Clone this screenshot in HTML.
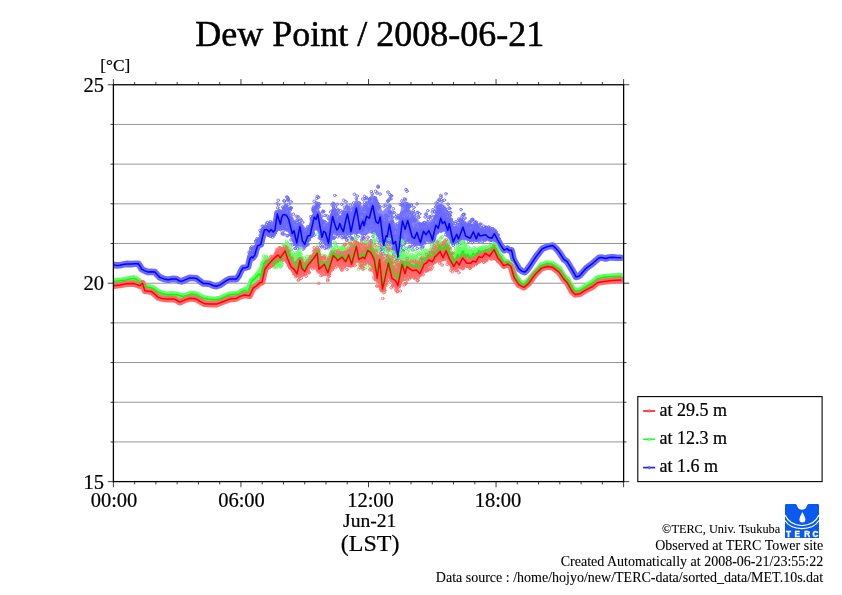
<!DOCTYPE html>
<html lang="en"><head><meta charset="utf-8"><title>Dew Point / 2008-06-21</title>
<style>html,body{margin:0;padding:0;background:#fff}body{width:842px;height:595px;overflow:hidden}svg{display:block}text{font-family:"Liberation Serif",serif;fill:#000;stroke:#000;stroke-width:.22px}</style></head><body>
<svg width="842" height="595" viewBox="0 0 842 595">
<rect width="842" height="595" fill="#fff"/>
<path d="M113.4 441.93H623.6M113.4 402.24H623.6M113.4 362.56H623.6M113.4 322.87H623.6M113.4 283.19H623.6M113.4 243.50H623.6M113.4 203.81H623.6M113.4 164.13H623.6M113.4 124.44H623.6" stroke="#000" stroke-width="0.42" fill="none"/>
<clipPath id="c"><rect x="113.4" y="84.8" width="510.2" height="396.9"/></clipPath>
<g clip-path="url(#c)" fill="none" stroke-linejoin="round" stroke-linecap="round">
<path d="M113.4 264.6 116 265.4 120 265.3 123 264.6 126.6 263.9 131 264.1 135 263.8 138.3 263.8 140 266 141.6 269.1 145 270.9 148.2 272.1 151 271.7 154.9 272.1 157.5 275 159.9 277.4 164 278.9 168.2 279.7 172 278.9 176.5 279.1 179 280.7 181.5 281.4 185 279.9 189.8 277.9 193 278 196.5 278.4 200 281.1 203.1 283.4 206 283.5 209.8 284.1 213 285.5 216.4 286.2 220 284.9 223.1 282.9 226 280.8 229.7 279.1 233 278.9 236.4 279.1 239 275.5 241 271 243 267.9 245.5 267.7 248 266.9 250 258.5 251.5 257 252.8 257.8 254.8 255.1 256.3 249.5 257.8 245.6 259.3 245.2 260.8 244.4 262.5 237 264.3 230.1 266.7 229.5 269.1 231.9 271.1 229.5 273.3 231.9 275 230.1 276.2 221 277.4 214.1 278.9 219.5 280.4 224.2 281.6 218 282.8 214.7 285.7 214.7 287.2 216.5 288.7 219.4 290.5 226.5 292.3 233.7 294 230.7 295.4 237 296.8 243.2 298.4 234 300 226.6 301.2 234 302.4 240.8 304.7 244.4 306.2 240 307.7 236.1 310.1 235.5 312.2 226 314.2 217.1 316 219.4 317.8 214.1 319.9 226 322 237.3 323.7 231.3 325.5 232.5 327 238 328.5 243.2 330.5 229 332.6 216.5 334.7 224 336.8 230.1 338.3 228.5 339.8 223.4 341.5 228 343.3 231.8 345.4 222 347.5 213.9 349.3 223 351 231.8 353.7 219 356.4 208 358.2 219 359.9 229.4 361.4 224.5 362.9 221.1 364.1 225.8 366.5 216.3 369.4 218.1 371.1 211 372.8 205.6 374.4 214 376 221.7 378.3 223.4 380.1 216.9 381.9 231 383.7 245.2 386.1 235.7 387.3 236.5 389.4 224 391.3 234 393.2 244 395.6 241.6 397.9 257.1 399.7 243 401.2 230 402.5 221.1 405.1 229.4 407.7 220.5 410 229 412.2 236.9 414.6 238.3 416.9 232.4 418.7 238 420.5 242.8 422 236.5 423.5 231.2 425.9 234.7 428.8 230.6 431.2 236 432.4 240.1 434.2 232 435.9 225.3 438.3 228.3 440.7 218.2 442.5 223.5 444.8 221.7 447.8 230.6 449.2 223.5 451.2 233 453.2 241.9 456.7 234.2 458.5 238.9 460.8 233 463 227.1 465.6 236 470.4 238.3 473.3 231.8 476.3 238.9 478.5 233 479.9 236 485.8 234.8 488.2 237.2 491.8 238.3 494.4 233.6 497.7 240.1 501.3 246.1 504.2 250.2 507.2 248.6 509 250.4 511.5 250.2 513.4 258.5 515 262 519 268.9 522 271.2 524.7 272.1 527 270 529.5 266.5 535.9 256.9 542.3 248.8 547.9 246.4 552.7 245.6 556 248.4 559.1 252.1 563.9 259.3 567.1 261.7 572 269.7 576 276.9 578 276.6 580 275.3 586.4 268.1 592.8 263.3 599.2 257.7 602 257.6 605.6 258.5 609 257.5 612 257.2 616 257.6 620.9 257.7" stroke="#6b6bff" stroke-width="6.6"/>
<path d="M249 255.8 249.5 254.8 250 253.9 250.5 252.9 251 252 251.5 251 252 250.1 252.5 249.4 253 248.7 253.5 248 254 247.2 254.5 246.5 255 245.8 255.5 245.1 256 244.4 256.5 243.7 257 242.9 257.5 242.1 258 241.2 258.5 239.8 259 238.5 259.5 237.1 260 235.8 260.5 234.4 261 233.1 261.5 231.8 262 230.5 262.5 229.3 263 228 263.5 226.8 264 226 264.5 225.8 265 225.6 265.5 225.4 266 225.3 266.5 225.1 267 225 267.5 224.9 268 224.9 268.5 224.9 269 224.9 269.5 224.9 270 224.9 270.5 224.9 271 224.9 271.5 224.8 272 224.7 272.5 224.5 273 224.3 273.5 223.6 274 222.3 274.5 220.9 275 219.6 275.5 218.3 276 216.4 276.5 214.3 277 212.1 277.5 209.8 278 207.6 278.5 208.1 279 208.6 279.5 209.1 280 209.7 280.5 210.3 281 211 281.5 209.8 282 208.8 282.5 207.7 283 206.6 283.5 205.5 284 204.4 284.5 203.2 285 202.1 285.5 202.3 286 202.9 286.5 203.5 287 204.2 287.5 204.9 288 205.7 288.5 206.4 289 207.4 289.5 208.5 290 209.5 290.5 210.7 291 211.9 291.5 213.1 292 214.3 292.5 215.6 293 216.9 293.5 218.1 294 219.3 294.5 220.5 295 221.5 295.5 222.5 296 223 296.5 222.9 297 222.6 297.5 222.5 298 222.4 298.5 222.4 299 222.4 299.5 222.3 300 222.2 300.5 222.1 301 223 301.5 224.2 302 225.2 302.5 226.4 303 227.6 303.5 228.8 304 230 304.5 231.3 305 232.5 305.5 233 306 232.5 306.5 231.9 307 231.2 307.5 230.4 308 229.6 308.5 228.8 309 227.9 309.5 227 310 226.1 310.5 223.6 311 221.2 311.5 218.8 312 216.5 312.5 214.1 313 211.7 313.5 209.3 314 208.1 314.5 207.1 315 206.2 315.5 205.3 316 204.6 316.5 203.8 317 203.2 317.5 202.6 318 203.3 318.5 205.5 319 207.9 319.5 210.1 320 212.4 320.5 214.6 321 216.2 321.5 216.9 322 217.7 322.5 218.5 323 219.3 323.5 220 324 220.8 324.5 221.5 325 222.1 325.5 222.7 326 222.8 326.5 222.7 327 222.7 327.5 222.6 328 222.5 328.5 222.5 329 222.4 329.5 220 330 217.6 330.5 215.3 331 212.9 331.5 210.6 332 208.2 332.5 205.8 333 205.6 333.5 206 334 206.4 334.5 206.9 335 207.4 335.5 208.1 336 208.9 336.5 209.8 337 210.7 337.5 211.7 338 212.6 338.5 213.6 339 214.5 339.5 215.4 340 216.2 340.5 215.3 341 214.3 341.5 213.3 342 212.3 342.5 211.2 343 210.2 343.5 209.1 344 208.1 344.5 207.2 345 206.3 345.5 205.4 346 204.5 346.5 203.6 347 203.2 347.5 204.1 348 205.2 348.5 206 349 207.1 349.5 207.9 350 209 350.5 209.8 351 210.9 351.5 211.8 352 210.8 352.5 209.1 353 207.7 353.5 206.1 354 204.6 354.5 203 355 201.5 355.5 200 356 198.5 356.5 197.5 357 198.7 357.5 199.8 358 201 358.5 202.2 359 203.5 359.5 204.8 360 206.2 360.5 207.5 361 208.9 361.5 208.4 362 208 362.5 207.4 363 206.8 363.5 206.2 364 205.6 364.5 204.8 365 204.2 365.5 203.5 366 202.8 366.5 202 367 201.3 367.5 200.5 368 199.7 368.5 198.8 369 198 369.5 197.2 370 196.5 370.5 195.8 371 195.2 371.5 194.7 372 194.5 372.5 194.8 373 195.2 373.5 195.5 374 195.8 374.5 196.2 375 196.5 375.5 196.8 376 197.2 376.5 197.7 377 198.2 377.5 198.8 378 199.7 378.5 201.1 379 202.4 379.5 203.8 380 205.2 380.5 206.5 381 207.6 381.5 208.9 382 210 382.5 211.2 383 210.7 383.5 210.3 384 209.8 384.5 209.3 385 208.8 385.5 208.2 386 207.6 386.5 207.3 387 207.1 387.5 206.8 388 206.5 388.5 206.2 389 206 389.5 205.7 390 206.9 390.5 208.5 391 210.1 391.5 211.6 392 213.3 392.5 214.9 393 216.7 393.5 218.6 394 220.5 394.5 222.1 395 222.6 395.5 223 396 223.4 396.5 223.6 397 223.7 397.5 223.7 398 223.7 398.5 221 399 218.5 399.5 215.8 400 213.4 400.5 210.8 401 208.3 401.5 205.6 402 202.9 402.5 202.5 403 202.2 403.5 201.8 404 201.6 404.5 201.4 405 201.3 405.5 201.3 406 201.4 406.5 201.5 407 201.8 407.5 202.3 408 203.6 408.5 204.9 409 206.1 409.5 207.4 410 208.6 410.5 209.9 411 211.1 411.5 212.4 412 213.7 412.5 214.5 413 214.9 413.5 215.3 414 215.7 414.5 216.2 415 216.6 415.5 217 416 217.4 416.5 217.8 417 218.1 417.5 218.9 418 219.5 418.5 220.3 419 220.9 419.5 221.6 420 222.2 420.5 223 421 223.7 421.5 224.5 422 224.6 422.5 224.2 423 223.8 423.5 223.4 424 222.9 424.5 222.5 425 222 425.5 221.5 426 221.1 426.5 220.7 427 220.3 427.5 220 428 219.8 428.5 220.3 429 221.1 429.5 221.9 430 222.7 430.5 222 431 221.2 431.5 220.5 432 219.7 432.5 219 433 218.2 433.5 217.5 434 216.8 434.5 216.1 435 215.2 435.5 214.2 436 213.2 436.5 212.1 437 211 437.5 209.9 438 208.9 438.5 207.9 439 207 439.5 206.1 440 205.1 440.5 204.3 441 204 441.5 204.2 442 204.3 442.5 204.5 443 204.7 443.5 205 444 205.2 444.5 205.5 445 205.7 445.5 206.2 446 207.1 446.5 208.1 447 209.1 447.5 210.1 448 211.2 448.5 212.2 449 213.4 449.5 214.5 450 216.1 450.5 217.7 451 219.4 451.5 221 452 222.5 452.5 224.1 453 225.7 453.5 226.2 454 226.1 454.5 225.9 455 225.7 455.5 225.4 456 225.1 456.5 224.8 457 224.3 457.5 223.9 458 223.4 458.5 222.9 459 222 459.5 221.3 460 220.5 460.5 219.9 461 219.2 461.5 218.6 462 217.9 462.5 217.3 463 217.9 463.5 219.5 464 221 464.5 222.6 465 224.2 465.5 225.8 466 226 466.5 225.9 467 225.7 467.5 225.7 468 225.5 468.5 225.4 469 225.1 469.5 224.9 470 224.7 470.5 224.5 471 224.2 471.5 224 472 223.8 472.5 223.6 473 223.7 473.5 224.1 474 224.4 474.5 224.8 475 225.2 475.5 225.6 476 226 476.5 226.4 477 226.9 477.5 227.3 478 227.6 478.5 227.8 479 228 479.5 228.2 480 228.4 480.5 228.5 481 228.7 481.5 228.8 482 229 482.5 229.2 483 229.5 483.5 229.7 484 229.8 484.5 229.9 485 229.9 485.5 230 486 230.1 486.5 230.2 487 230.3 487.5 230.5 488 230.6 488.5 230.6 489 230.7 489.5 230.8 490 230.8 490.5 230.8 491 230.9 491.5 230.9 492 231 492.5 231.1 493 231.2 493.5 231.2 494 231.3 494.5 231.9 495 232.6 495.5 233.3 496 234 496.5 234.7 497 235.5 497.5 236.2 498 237.1 498.5 238 499 239 499.5 240 500 240.9 500 246.7 499.5 245.8 499 244.9 498.5 244 498 243.1 497.5 242.4 497 241.9 496.5 241.4 496 241 495.5 240.6 495 240.3 494.5 240 494 239.8 493.5 239.6 493 239.5 492.5 239.3 492 239.4 491.5 239.4 491 239.5 490.5 239.5 490 239.6 489.5 239.7 489 239.7 488.5 239.8 488 239.8 487.5 239.8 487 239.7 486.5 239.7 486 239.7 485.5 239.7 485 239.7 484.5 239.7 484 239.7 483.5 239.7 483 239.7 482.5 239.7 482 239.8 481.5 239.8 481 239.9 480.5 240 480 240.2 479.5 240.2 479 240.3 478.5 240.3 478 240.4 477.5 240.3 477 240.4 476.5 240.4 476 240.6 475.5 240.6 475 240.8 474.5 240.9 474 241.1 473.5 241.2 473 241.4 472.5 241.4 472 241.4 471.5 241.3 471 241.2 470.5 241.2 470 241.2 469.5 241.2 469 241.1 468.5 241.1 468 241 467.5 240.9 467 240.7 466.5 240.6 466 240.4 465.5 240.3 465 240.1 464.5 240 464 239.9 463.5 239.8 463 239.8 462.5 239.9 462 240.1 461.5 240.3 461 240.4 460.5 240.7 460 240.9 459.5 241.3 459 241.6 458.5 242 458 242.4 457.5 242.7 457 243 456.5 243.3 456 243.5 455.5 243.6 455 243.7 454.5 243.7 454 243.6 453.5 243.5 453 243.2 452.5 242.3 452 241.6 451.5 240.8 451 239.9 450.5 239 450 238.1 449.5 237.1 449 236.4 448.5 235.6 448 234.9 447.5 234.3 447 233.7 446.5 233.1 446 232.5 445.5 231.9 445 231.8 444.5 231.8 444 231.8 443.5 231.8 443 231.8 442.5 231.9 442 232 441.5 232.1 441 232.2 440.5 232.3 440 232.5 439.5 232.7 439 232.9 438.5 233.2 438 233.5 437.5 233.8 437 234.2 436.5 234.7 436 235.1 435.5 235.6 435 235.8 434.5 236.4 434 237 433.5 237.6 433 238.1 432.5 238.7 432 239.2 431.5 239.9 431 240.5 430.5 241.1 430 241.7 429.5 242 429 242.2 428.5 242.3 428 242.4 427.5 242.3 427 242.4 426.5 242.5 426 242.6 425.5 242.8 425 243.1 424.5 243.4 424 243.7 423.5 243.9 423 244.1 422.5 244.3 422 244.4 421.5 244.5 421 244.5 420.5 244.6 420 244.7 419.5 244.9 419 245 418.5 245.3 418 245.3 417.5 245.5 417 245.5 416.5 245.5 416 245.4 415.5 245.3 415 245.1 414.5 244.9 414 244.8 413.5 244.6 413 244.4 412.5 244.2 412 244 411.5 243.8 411 243.6 410.5 243.5 410 243.3 409.5 243.1 409 243 408.5 242.8 408 242.6 407.5 242.3 407 242.3 406.5 242.3 406 242.4 405.5 242.5 405 242.9 404.5 243.2 404 243.8 403.5 244.3 403 245.1 402.5 245.8 402 246.6 401.5 248 401 249.5 400.5 250.7 400 252.1 399.5 253.3 399 254.8 398.5 256 398 257.5 397.5 257.6 397 257.8 396.5 257.7 396 257.6 395.5 257.2 395 256.9 394.5 256.4 394 255.3 393.5 253.8 393 252.5 392.5 251.2 392 250.2 391.5 249.1 391 248.1 390.5 247.1 390 246.2 389.5 245.5 389 246 388.5 246.4 388 247 387.5 247.5 387 248 386.5 248.5 386 249 385.5 249.2 385 249.5 384.5 249.7 384 249.7 383.5 249.9 383 250 382.5 250.1 382 248.7 381.5 247.4 381 246 380.5 244.7 380 243.2 379.5 241.7 379 240 378.5 238.5 378 236.9 377.5 236 377 235.5 376.5 235.2 376 234.9 375.5 234.7 375 234.5 374.5 234.4 374 234.3 373.5 234.1 373 234 372.5 233.8 372 233.7 371.5 233.5 371 233.4 370.5 233.3 370 233.3 369.5 233.4 369 233.5 368.5 233.8 368 234 367.5 234.2 367 234.4 366.5 234.5 366 234.6 365.5 234.7 365 234.8 364.5 234.9 364 235.1 363.5 235.1 363 235.2 362.5 235.1 362 235 361.5 234.9 361 234.7 360.5 234.4 360 234.3 359.5 234 359 233.9 358.5 233.7 358 233.7 357.5 233.7 357 233.7 356.5 233.7 356 233.8 355.5 233.8 355 233.9 354.5 233.8 354 233.9 353.5 233.9 353 234.1 352.5 234.1 352 234.2 351.5 234.3 351 234.4 350.5 234.5 350 234.6 349.5 234.7 349 234.8 348.5 234.9 348 235 347.5 235.1 347 235.2 346.5 235 346 234.9 345.5 234.8 345 234.8 344.5 234.7 344 234.7 343.5 234.7 343 234.9 342.5 235 342 235.1 341.5 235.2 341 235.3 340.5 235.3 340 235.3 339.5 235.2 339 235.1 338.5 234.9 338 234.7 337.5 234.5 337 234.3 336.5 234.1 336 234 335.5 234 335 234 334.5 234.2 334 234.5 333.5 234.8 333 235.2 332.5 235.8 332 237.2 331.5 238.7 331 240.1 330.5 241.5 330 242.9 329.5 244.4 329 245.8 328.5 245.8 328 245.9 327.5 245.9 327 245.9 326.5 245.9 326 245.9 325.5 245.7 325 245.3 324.5 244.7 324 244.1 323.5 243.4 323 242.7 322.5 241.9 322 241.2 321.5 240.4 321 239.8 320.5 238.7 320 237.2 319.5 235.7 319 234.2 318.5 232.6 318 231.1 317.5 230.4 317 230.2 316.5 230.2 316 230.2 315.5 230.4 315 230.6 314.5 230.8 314 231.2 313.5 231.7 313 232.6 312.5 233.4 312 234.2 311.5 234.9 311 235.8 310.5 236.6 310 237.5 309.5 238.6 309 239.7 308.5 240.7 308 241.7 307.5 242.6 307 243.5 306.5 244.4 306 245.1 305.5 245.8 305 246.1 304.5 246.1 304 246.1 303.5 246.2 303 246.2 302.5 246.4 302 246.4 301.5 246.7 301 246.8 300.5 246.9 300 246.8 299.5 246.7 299 246.5 298.5 246.4 298 246.1 297.5 246.1 297 245.9 296.5 246 296 245.9 295.5 245.8 295 245.3 294.5 244.8 294 244.3 293.5 243.6 293 242.9 292.5 242.1 292 241 291.5 239.8 291 238.5 290.5 237.3 290 236.1 289.5 235 289 233.9 288.5 233 288 232.5 287.5 232 287 231.5 286.5 231.1 286 230.7 285.5 230.4 285 230.3 284.5 230.2 284 230.2 283.5 230.1 283 230 282.5 230 282 229.9 281.5 229.8 281 229.8 280.5 229.8 280 230 279.5 230.2 279 230.5 278.5 230.8 278 231.1 277.5 231.6 277 232.1 276.5 232.6 276 233 275.5 233.3 275 233.5 274.5 233.6 274 233.9 273.5 234.1 273 234.4 272.5 234.6 272 234.8 271.5 234.9 271 234.9 270.5 234.9 270 234.8 269.5 234.8 269 234.7 268.5 234.7 268 234.6 267.5 234.7 267 234.7 266.5 234.8 266 235 265.5 235.3 265 236 264.5 236.7 264 237.5 263.5 238.3 263 239.1 262.5 239.9 262 240.9 261.5 241.8 261 242.9 260.5 243.9 260 245.2 259.5 246.4 259 247.7 258.5 248.9 258 250.1 257.5 251.1 257 252.1 256.5 252.9 256 253.6 255.5 254.3 255 255 254.5 255.7 254 256.5 253.5 257.4 253 258.1 252.5 258.8 252 259.5 251.5 260.2 251 260.8 250.5 261.5 250 262.2 249.5 262.9 249 263.6Z" fill="#6b6bff" fill-opacity="0.8" stroke="none"/>
<marker id="mb" markerUnits="userSpaceOnUse" markerWidth="4" markerHeight="4" refX="2" refY="2" viewBox="0 0 4 4"><circle cx="2" cy="2" r="1.3" fill="none" stroke="#6b6bff" stroke-width="0.9"/></marker>
<path d="M248.6 257.1 248.9 255.6 248.9 259.7 248.6 260.9 249.2 259.2 249.9 258.1 249 252.3 249.1 259.6 250.3 256.9 249.9 253.3 249.6 256.1 249.9 257.5 250.6 251.2 250.7 256 250.6 250 250.3 252.9 250.6 259 251 258.1 251.2 255.1 250.8 248.1 251.6 252.3 251.9 246.9 251.7 254.6 252 255.1 251.8 248.7 252 256.2 251.6 255.8 251.7 256.5 252.9 253.1 252.9 249 252.9 253.8 252.9 251.3 252.7 255.8 253 255 252.8 251.2 253.1 250.5 253.7 255.1 253.1 248.2 253.8 248.7 253.4 253.1 254.1 248.3 253.7 250.2 253.6 252.3 253.9 252.3 254.9 250.9 254.3 250.5 254.1 249.6 254.5 246.6 254.6 252.2 254.7 251.4 255.5 241.5 254.5 248 256 245.9 255.4 251.9 255.8 247.4 255.2 250.8 256.5 245.9 256.2 247.3 256 240.9 255.8 249.7 256.7 250.1 257 251 256.2 250.8 256.2 247.2 257 240.5 257.3 243 257.3 242.7 257 238.8 257.8 247.3 257.4 249.6 257.2 240 257.2 245.6 258.3 247.7 258.2 248.2 257.5 244.7 258.1 247.7 258.9 240.7 258.2 246.9 258.6 245.2 258.4 242.2 259 240.5 259.4 242.2 259 239.1 258.5 241.7 259.8 243.6 259.5 243.3 259.5 238.9 259.8 242 259.8 238.4 260 240.9 259.9 241.7 260.2 235.4 260.5 241.1 260.9 232.5 260.3 242.2 260.1 230.4 260.9 236.1 261.2 240.1 261.4 237.8 260.6 238.3 262 241.3 261.5 232.9 261.8 239.6 261.3 232.1 261.8 234.8 261.9 229.7 261.8 237.2 262.5 235.8 263 237.1 262.8 237.1 262.1 235.3 262.3 226.2 263.4 229.2 262.6 235.5 262.9 233.4 263.3 226.7 263.9 231.5 263.3 230.1 263.9 229.1 263.2 229.1 263.7 227.9 263.8 232.9 263.8 228.4 263.5 231.7 264 228 264.5 229.6 264.1 234.4 264.8 226.3 265 230.1 265.3 227.2 265.1 232.8 264.6 232.1 265.7 230.9 265.8 231.3 265.7 233.5 265.5 232.4 265.9 227.1 266 228.2 265.9 227 265.9 230.9 266.5 227.7 266.3 231.4 266 230.1 266.2 230.5 267.2 222.4 267.4 232.1 266.6 224 267.3 231.6 267.6 231.5 267.5 231.4 267.8 228.1 267.9 233 268.2 235.1 267.9 227.9 268.3 230 268.2 234.3 268 225.5 268.5 230.5 268.1 235.2 268.3 230.4 268.7 232.1 268.9 235.1 269.2 229.6 268.6 234.7 269.3 225.8 269 232.3 269.3 224.5 269.3 232.7 270 223.6 269.7 222.8 270.4 236.3 270.5 221.6 270.3 228.3 270.6 227.4 270.5 229.5 270.5 235.6 271.2 236.2 270.5 226 271 227.2 270.8 229.8 271.8 227.8 271.1 230.3 271.3 232.4 271.4 226.4 271.5 227.6 272.4 228 271.8 226.7 272.5 231.5 272.8 233.7 272.5 235.4 272.5 237.1 272.6 231.7 272.6 225.9 273.2 231 272.8 232.3 272.9 230.6 273.2 223.3 273.2 224.1 274 231.4 273.1 229.9 273.6 224.7 274.4 226.3 273.9 235.5 273.8 233.2 274.3 225.1 274.6 231.9 274.2 232 274.4 225.7 275.3 233.1 275.2 227.3 275 225.6 275.4 233 275.9 224.8 275.2 224.8 275.7 228.6 275.8 226.8 276.1 214.4 276.4 223.5 275.8 230.3 276.2 224.5 276.1 211.8 276.2 231 276 228 276.6 218.7 276.7 229.4 277.2 224.5 277.2 211.8 276.8 221.9 277 228 277.4 219 277.7 227.5 277.2 203.5 277.7 228 278.3 200.3 277.7 207.8 277.9 217.5 278.4 225.8 279 218.9 278.4 217.1 278.9 221.9 278.8 220.4 278.5 204.7 278.9 226.5 278.5 217.1 279.4 214.4 279.8 221.7 279.4 228.6 279.9 210.7 279.9 217.1 280.3 229.5 279.5 220.5 279.8 211.8 280.3 226.1 280.6 224 280.3 216.6 280.8 212.2 281 225.8 281.5 218.8 281 217.6 280.7 229.7 281.8 218.9 281.4 222.1 281.1 226.4 281.1 217.2 282.1 211.7 282.5 215.4 282 214.4 281.9 220 282.7 207.1 282.8 225.7 282.3 233.9 282.4 233.1 282.7 220.2 283.4 210.6 283.5 222.9 282.7 228 283.8 228.3 283.9 225.5 283.2 215.9 283.6 223.2 283.9 234.2 284.3 200.9 284.1 230.2 283.9 207.8 284.6 214.4 284.2 226.2 284.2 208.5 284.2 200.9 284.6 221.2 285.1 215.5 285.2 223.2 284.8 212.7 285.6 206.3 285.4 213.7 285.2 229 285.2 217.2 286.3 206.4 286.4 209.6 286.1 216.1 286.4 219.1 286.5 209.1 286.3 209.4 286.5 223.2 287 220.5 287.5 197.4 286.6 196.9 287.1 235.7 286.7 230 287.8 200.4 287.4 222.9 287.4 211.3 287.9 219.1 288.1 199.5 287.6 225.6 287.8 235.6 288.1 214.8 288.4 213.7 288.6 209.4 288.8 219.5 288.2 199 288.9 217 288.9 218.2 288.6 204.2 289.3 226.4 289.4 208.7 289.1 227.8 289.8 223.9 290 208.2 289.7 225.8 289.9 228 289.7 226 289.6 227.5 290.9 201.9 290.3 224.2 290.2 210.1 290.9 207.4 291.3 219 290.9 208.5 291.1 229.6 291.5 230.5 291.4 231.4 291.6 231 291.2 226.6 291 239.9 292.5 229.5 292.2 245.1 291.6 225.7 291.9 229.2 292.2 225 292 234.2 292.4 226.8 292.6 225.7 293 235.9 293.4 214.2 293.1 228.3 293.3 235.6 293.6 232.7 293.4 234.4 293.7 241.1 293.5 229.7 293.7 231.4 294.1 233.2 293.6 235.1 294.1 222 294.2 241.7 294.9 232.9 294.7 237.1 294.5 223 295 248.5 294.5 227.8 295.2 229.3 294.8 243.5 295.4 248.4 295.6 242.7 295.2 235.6 295.2 242.7 296.4 234.9 295.8 244.8 296.4 216.3 296.5 239.9 296.8 220.4 296.7 241.7 296.3 243.5 296.9 231.4 296.5 231.3 296.6 225.7 296.5 230.1 297.2 245.6 297.6 222.4 297.9 226.5 297.9 216.7 297.2 239.4 297.5 233 298.3 240.5 297.8 248.8 297.7 219.8 298.4 224.3 298.7 235.2 298.3 226.2 298.6 236 299.3 225 299.2 229.3 298.6 231 298.7 236.2 300 237.1 299.8 222 299.5 235.8 299.9 231.8 299.7 228.2 300.1 241.4 300.3 236.8 299.9 239.9 300.4 219 300 247.1 300.5 235 300.5 230.1 301.3 231.2 300.8 242.3 301.3 228 300.9 237.6 301.6 242.7 301.2 231.7 301.8 231.6 301.2 220.2 301.7 231.3 301.7 225.9 302.5 237.7 301.9 232.4 302.4 241.2 302.6 222.3 302 234.8 302.8 228.2 303 249.1 303.1 237.3 302.9 236.3 302.7 237.4 303.9 246 303.7 242.5 303.6 244.3 303.4 235.8 303.8 240.4 304 228.3 304.4 247.6 304.2 232.3 305 244.9 304.5 233.8 304.5 235.5 304.7 231.4 305.1 242.7 305.4 245.8 305.2 238.1 305.5 238.7 305.1 236.4 305.4 238.5 305.7 238.7 305.7 238.8 306 243.2 305.7 237.3 306.3 233.6 306.1 243.4 307 233.7 306.8 231.5 306.3 230.1 306.4 230.6 306.8 244.9 306.7 238.3 307.2 231.7 307 238.3 307.6 232.2 307.9 244.7 307.8 226.5 307.8 238.2 307.5 239.3 307.8 228 307.6 234 307.7 235.8 308.8 240 308.8 229.2 308.9 239.8 308.7 237.3 309.2 231.2 308.8 229 308.6 229.5 308.6 228.4 309.5 230.9 309.8 233.4 309.6 232.6 309.4 235.8 309.6 236.1 310.1 232.5 310.4 232.6 310 225.8 310 231.1 310.9 234.1 310.5 226.5 310.4 230.8 311.1 224.4 310.9 232.3 310.8 216.6 311.3 219.1 311.3 226.2 311.8 218.2 311.7 222.1 311.3 230 311.7 226.2 312.3 234.7 312.1 233.3 312.1 234.3 312.2 233.7 312.1 229 312.9 208.5 312.4 228.7 312.8 227 312.9 210.4 313.4 209.9 313.1 217.9 313.6 206.8 313.4 233 313.9 210.8 313.5 230.2 313.7 207.9 313.5 211.6 314.5 220 314.4 216.6 314.2 201.3 314.2 223.2 314.9 218.6 314.1 235.2 315.4 223.5 315.5 207 315.2 222.5 314.6 221.1 315.9 219.5 315.1 212.5 315.7 207.7 315.8 214 315.9 208.4 316.3 204.9 315.8 223 316.5 202.8 316.6 224.4 316.8 227.8 316.9 215 316.7 206 316.8 198.4 316.8 203.7 317.4 196.4 317.3 206.1 317.3 228.8 317.8 229.6 317.1 228.1 317.8 213.7 317.7 222.6 317.7 214.3 318.3 205.5 318.3 226 318.2 224.3 318.5 197.3 318.6 203.7 318.7 219.9 319.1 215.8 318.5 216.2 318.9 225 318.7 207.2 319.3 238.1 320 221.6 319.5 225.3 319.4 226.3 320.5 228 319.5 204 319.6 223.8 320.4 229.9 320.1 219 321 231.1 320.6 223.3 320.4 243 320.7 223.4 320.5 235.7 320.9 227 320.5 245.9 321.7 240.6 321.1 232 321.9 228.4 321.8 232.8 321.8 216.3 321.7 221 321.6 221.1 321.7 247.1 322.9 229.1 322.9 211.1 322.4 221.9 322.6 212.2 322.8 222.7 322.6 246.1 322.6 229.6 323.4 237.2 323.4 230.7 323.3 230 323.5 211.5 324 228.3 324.4 230.8 323.8 236.7 323.7 221.2 324.4 231.8 324.1 228.8 324 241.9 324 237.7 324.5 239.2 324.7 225.3 325.3 239.3 324.7 240 325 221.8 325.2 227.5 325.6 240.3 325.1 215.4 325.1 248.4 325.8 244.1 325.5 243.1 326 244.1 326.3 236.3 326.2 228.2 326.5 234.3 326.5 234.5 326.9 230.7 327.2 215.9 327.4 234.4 327 238.2 326.5 247.6 327.2 236.5 327.8 227.8 327.1 229.3 327.6 234.5 328 235 328.2 247.8 328 225.3 327.6 225.5 328.9 243.4 328.6 223.5 328.9 244.5 328.4 218.5 329.4 244.9 328.8 233.5 329.5 227.1 329.4 243.9 329.5 233.2 329.9 234.2 329.4 218.9 329.1 239.3 329.6 227.9 330.3 230.2 330.4 244.8 329.5 246.4 330.3 231.4 330.9 246.4 330.4 229.8 330.3 243.2 331.1 224.8 331 233.3 330.6 211.9 330.6 225.4 331.2 217.7 331.5 221.4 331.7 238.1 331.7 215.5 332 205.1 331.7 220.8 332.1 210.9 331.9 226.6 332.5 228.2 333 203.2 332.1 225.9 332.4 232 333.2 211.5 332.7 213.8 332.8 227 333.2 216 333.5 206.8 333.7 238.5 333.7 228.2 333 237.7 334.1 237.9 333.9 204.3 334.4 228.1 334 212.1 334.3 231.6 334.3 210.2 334.8 227.9 334.3 215.4 335.1 221.4 334.8 195.5 335.3 235.1 335.4 227.4 335 209.9 335.8 223.9 335.5 207.1 335.4 224.6 336.4 214 336 229.2 336.1 214.8 336.4 214.7 336.6 234.2 336.3 225.5 336.3 221.5 336.8 229.7 337.2 204.4 337.5 236.8 336.8 229.6 337 221.7 337.6 218.7 338 209.8 337.8 234 337.7 222.5 338.1 218.6 338.1 229.5 338.1 213 337.9 210.6 338.2 226.8 338.2 229.8 338.8 223.7 338 225.6 338.8 230 338.8 230.2 339.4 222 338.9 220.3 339.9 218.1 339.6 216.4 339 225 339.9 231.6 339.8 232.7 340.4 235.8 339.9 225 340.4 229 340.8 218.5 340.2 223.1 340.3 233.8 340.4 217.6 340.6 218.1 340.7 222.6 340.8 217.9 340.8 210.8 341.7 223.2 341.1 224.2 341.8 204.3 341.7 231 342.5 216.7 341.7 212.4 341.6 222 342.1 227.6 342.2 225.4 342.1 237.7 342.8 216 342.7 223.1 342.6 220.1 343.4 212.9 343.1 221.7 343 219.6 343.2 213.7 343.7 219.6 343.8 200.3 343.9 236.6 344.2 223.3 343.9 226.4 343.7 212.3 343.9 237.2 344.9 225.8 344.7 228.3 344.2 215.3 344.4 221.5 344.7 215.5 345.1 237.5 345.2 224 344.5 207.3 345 224.9 345.6 232.1 345.8 223.2 345.9 215.7 345.9 237.7 346.3 232.1 345.9 201.8 346.3 229.9 346.5 240.1 346.5 217.7 346.1 234.4 346.8 239.7 347 216.2 346.7 232.6 346.9 206.5 346.6 219.2 347.7 232.5 347.4 222.5 347.4 236.6 347.6 216.5 348.3 217.6 348.2 222.8 348 230.1 347.8 226.1 348.2 216.5 348.7 221 348.1 213.2 348.2 209.1 348.5 220.2 349.2 222.8 349.1 227.5 348.7 208 349 223 349.9 232.4 349.3 235.2 349.8 220.3 349.8 224.3 350.4 207.6 350.3 205 349.7 222.6 350.3 232.4 350.8 212.2 350 218.4 350.7 237.2 351.4 237.8 350.8 228.6 350.6 221.5 351.5 228.3 351 213.4 351 228.2 351.9 239.7 351.7 230 351.9 225.4 352.3 208.7 351.7 227.8 351.8 210.1 352.1 215.9 352.9 213.8 352.6 225.6 352.6 238.5 353.1 214.1 352.8 238.9 353.4 218.3 352.9 214 353.7 202.9 353.5 208.8 353.4 226.5 353.5 209 354.4 194.3 353.8 206.2 354.1 210.5 354 213.9 354.1 222.4 354.9 205.5 354.7 225.9 354.8 220.5 354.7 212.3 354.6 228.5 354.9 228.8 355.1 215.4 355.4 211 355.6 239.7 355.9 231 355.8 218.7 356.3 231.7 356.4 198.4 355.5 235.3 356.3 233.2 356.9 205 356.4 219.2 356.6 228.1 356.8 209.9 357.1 217.9 356.6 212.3 357 231.6 356.5 231.1 357.9 207.3 357 232.3 357.4 208.4 357.2 195.9 358.1 236.5 358.4 213.8 357.5 227.6 358.1 207.7 358.4 206.3 358 207.3 359 212.7 358.3 205.6 359 202.8 359.5 203.8 358.5 226.5 359.3 223.2 359.3 228.3 359.9 229.4 359.8 224.7 359.5 230.2 359.9 230.3 359.8 207.7 359.9 206.1 359.7 219.8 360.9 220.4 360.4 220.3 360.1 223.8 360.3 214.3 360.8 231 360.7 226.4 361.5 224.7 361.4 220.4 361.5 209.6 361 224.1 361.3 213.1 361.2 225 362.4 234.2 362.5 229.1 361.6 240.4 361.6 230.4 362.5 214.1 362.2 239.5 362.7 199.1 362.3 237.2 362.9 211 363 214 362.8 230.3 363.1 220.1 363.7 237.9 363.1 215.6 363.1 207.2 363.4 238.3 364.2 206.4 363.8 230.3 364.3 223.1 363.8 241.3 364.3 235.3 364.9 219.1 364.7 204.9 364.4 222.2 364.6 223.9 364.6 196.4 364.7 202.2 364.9 221.1 365.9 209.6 365 198.6 365.5 222.1 365.5 233.9 366.4 197.5 366.1 219.2 366.4 214.3 366.4 205.7 366.6 225 366.4 219 366.2 207.4 367 226.7 367.1 208.5 366.8 198.5 367.3 241.4 367.4 209.9 367.7 202.5 367.9 237.3 367.9 211.9 367.2 212.1 367.5 230.5 368.5 216.6 368.2 209.6 367.7 212.4 368.9 228.8 368.9 224.1 368.8 227.9 368 218.4 368.6 217 369.5 199.2 369 209.4 368.9 209.7 369.7 210.8 369.1 223.6 369.3 213.4 369.7 207.9 369.6 208.5 370 203 369.5 200.2 370.2 219.8 371 240.7 370.7 222.2 371 206.8 370.4 198.8 371.4 191.5 371.1 212.9 370.6 213 371.3 226 371.3 241 371.5 222.6 371.7 213.2 371.5 214 372.1 227.6 371.9 214.6 372.1 231.8 371.8 228.1 372.6 227 372.9 211.2 372.5 210.7 372.1 193.8 373 236.5 372.7 218.7 373.1 206.4 373.4 232.8 373.8 232 373.1 219.8 373.4 215 373.5 223.4 374.5 200.7 373.9 224.7 373.6 206.7 373.7 229.8 374.3 200.2 374.6 204.2 374.2 214.3 374.2 218 374.6 231.3 374.9 223.4 375.1 225 374.9 198.1 375.3 221.3 375.4 197.6 375.6 191.3 375.7 232.9 375.6 208.9 375.9 229.9 376.3 217.4 376 200.7 376.4 227.7 376.5 203 376.8 228.8 376 218.4 377.1 234.7 376.7 219.3 377.3 209.5 377.1 193.1 377.7 203.5 377.7 224.8 377.6 219.1 377.1 232.4 378 186.2 377.8 206 377.8 220 377.9 237.8 378.3 214.9 378.3 232.1 378.1 187.2 378.5 207.8 378.9 236.1 379.1 234.5 378.9 214.9 378.8 241.1 379.7 221.3 379.6 237.7 379.9 206.6 379.4 217.5 379.6 236.3 380.1 241.7 380.2 249.7 379.7 226.9 380.2 249.3 380.1 194.1 380.7 243.5 380.9 222.4 381.2 232.3 381.3 223.9 380.8 226.5 380.7 250 381.2 244.2 381 246.3 381.6 227.9 381.5 222.2 381.9 232.9 381.6 254.7 382.5 251.7 381.8 244.6 382.5 234 382.9 248.4 382.5 242.7 382.9 222.5 382.7 242.5 383.5 254.4 383.4 227.1 382.9 246.5 383.7 227.5 383.1 229.1 383.1 246.1 383.5 226.7 384 206.2 384.1 226.8 383.9 224.6 384.4 238.3 384.8 222.8 384.1 242.4 384.1 235.2 384.5 223.5 385 232 384.9 224.4 384.6 223.4 385.4 216 385.9 214.8 385.7 227 385.8 205.4 385.4 234.2 385.8 228.9 385.7 249.9 386.3 218.9 386.1 244.1 386 238.6 386.3 219 386 241.8 386.1 246.1 387.2 221.8 386.6 241.5 386.7 216.6 387.3 222.3 387.9 192 387.6 235.2 387.8 201.1 387.7 201.1 388.2 200.9 388.4 249.1 388.2 251 387.9 239.7 388.8 248.7 388.5 243.2 388.8 236.5 388.2 216 389.4 232.1 389.2 205.3 389.2 225.1 388.6 239.6 389.8 211.6 389.8 194.6 389.5 207.5 389.4 198.9 390 206.1 390.3 229.7 389.8 212.5 389.9 229.9 390.8 199 390.8 232.4 390.3 228.9 390.9 240.4 391.4 223.4 391 235.5 390.7 243.9 390.5 196.3 391.8 213.7 391.4 227.9 391.5 195.7 391.9 222 392.1 239.1 392.5 229.5 391.9 221.2 392.2 212 393 249.8 392.8 237 392.8 250.7 392.7 242.3 392.6 250 393.4 241.1 392.5 217.1 393.2 225.4 393.3 244.2 393.4 208.6 393.7 254 394 212.6 393.7 245.6 394.3 227.8 394 245.9 393.7 247.6 394.1 248.3 394.4 229 394.3 250.9 394.2 245 394.8 235.8 394.9 240.8 395.4 245.1 395.3 231.5 395.2 246.6 395.5 254.8 395.3 229.4 395.9 216.7 395.8 238.7 395.5 261.2 396.4 255.2 395.7 237.9 396.7 214.9 396.8 235.4 397 235.4 396.7 261.1 397.2 262.8 396.8 218.7 397.4 223.8 397.4 217.5 397.3 240 397.9 225.9 397.6 251.7 397.8 231 398.3 247.5 398 229.4 398.4 263.4 398.4 251.3 398.7 218.1 398.1 249.6 398.8 248.4 398.1 238.1 399.5 249.7 398.6 253.7 398.8 256.6 398.8 233 399.4 230.9 399.8 236.9 399.2 233.5 399.6 245.4 400.3 221.7 400 217.1 400.3 204.5 399.6 215.3 400.7 236.6 400.6 214.7 400.9 220.9 400.3 248.1 400.6 249.1 401.2 224.3 400.7 247.3 400.8 230.3 401.4 232.4 401.7 203.9 401.7 231.9 401.7 250.6 402.2 250.7 401.7 212.9 402.1 205.4 401.9 200.9 402.2 229.2 402.9 224.5 402.1 237.7 402.8 228.5 403.3 227 402.6 224.6 403 218.6 403.4 230.2 403.9 231.5 403.4 250.9 403.8 237.8 403.6 212.2 403.5 226 403.5 231.2 404 244.2 404.4 213.2 404.6 198.8 404.4 224.1 404.2 216.6 404.6 219.9 404.6 230.3 404.6 242.5 405.2 199.8 405.1 206.9 405.9 234 405.1 226.6 405.4 210 405.8 226 405.6 225.5 406.3 229.8 406.4 210.4 406.2 220.6 406.3 248.4 406 189.4 406.8 227.9 406.5 212.3 407.4 215.8 407.3 209.9 407.1 204.2 406.6 228 407.3 218.6 407 191.2 407.8 228 407.2 204.3 407.6 206.3 407.6 240.2 408.3 231.4 407.8 238.5 408.1 236 408 231.4 408.6 204.4 408.5 207.5 409.4 206.7 409.3 241.2 408.5 239.9 409.3 246.9 409.9 220.6 409.7 220.9 409.3 223.8 409.4 212.3 410.3 246.5 409.8 230.7 409.7 226.6 410.4 231.3 410.9 226.5 410.8 236.1 410.6 228.8 410.2 219.6 411.4 218.3 411.4 213.4 410.7 236.1 411.4 229.6 412 230 411.4 204.8 411.8 238.6 411.3 205.5 411.8 228.4 412.1 239.4 412.2 220 411.6 213.9 412.1 217.6 412.5 231.7 412.8 236.3 412.1 221 412.9 212.4 412.6 242.1 412.5 244.2 412.7 249.7 413.3 239 413.2 210.8 413.6 242.1 413.2 246.2 413.9 207.4 413.6 240.9 414.4 229.8 414.2 219.3 414.8 231.8 414.1 221.7 414.8 220.1 414.2 214.3 414.7 216.2 415 219.7 414.6 245.2 414.5 229.5 415.1 225.7 415.1 234.7 415.2 229.1 415.1 228.5 416 233.8 415.7 239.8 416.1 238 415.6 240.6 416.2 243 416.2 238.3 416.5 233.7 416.3 244.9 417.2 229 417 203.9 417 212.7 417 235.7 417.5 242.9 417.7 234.8 417.7 224.4 417.2 248.4 418.1 212.4 417.5 241.9 417.6 231.9 418.4 237.2 418.7 217.5 418.5 226.9 418.9 233.8 418.2 216.5 418.7 237.3 419.5 242.1 418.9 234.1 418.9 235.3 419.8 234 419.5 228.6 419.7 230.2 420 236.1 419.6 230 419.6 213.9 419.7 223.7 420.4 224.2 420.9 238.5 420.4 238.4 420 231.5 420.3 233.4 421 241.8 421.3 242.1 420.7 240 421.1 236.4 421.2 248.1 421.2 225.5 421.3 242.3 421.7 227.8 422.2 226.9 422.3 247.6 422 233.5 421.7 239.1 422.8 246.8 422.2 225 422.2 230.8 422.8 243.3 422.7 223.8 422.6 235.7 422.9 233.1 423.1 223.4 423.2 232.4 423 224.6 424 239.6 423.8 242 424.5 243.5 424.3 222.6 424.1 234.4 423.7 242.7 424.5 224.5 424 235 424.7 230.6 424.7 233.5 424.5 240.7 424.6 222.8 424.9 224.8 424.8 232.7 425.1 228 425.7 236.1 425.3 229 425.2 217 425.7 235.9 425.9 234.2 426.3 235.2 426.1 214.3 426.8 227.8 426.1 214.1 426.2 237.4 426.1 234.9 426.9 233.5 427.2 224.4 426.8 231.8 427.2 239.2 427.3 237.9 427.3 236.6 427.8 230.3 427.3 237.1 428.1 233 427.5 229.6 428.4 217.2 427.7 210.7 428.4 219.3 428.5 234.6 428.4 236.5 428.3 231.3 429 235.5 429.3 240.7 429.4 225.6 429.1 240.8 429 227 429.5 237.6 429.3 236.4 429.4 234.3 429.9 216.7 429.8 231 429.6 234.8 430 228.7 430.2 235.8 430.3 233 430.2 222.9 430.7 237.9 431.4 237 430.8 219.3 431.2 229.6 431.5 236.6 431.8 227.9 431.5 233.2 431.1 238.1 431.7 235 431.7 226.4 432.1 222.8 432.3 212.1 431.8 216 432.4 234.5 432.4 224 432.9 226 432.6 227.1 433.4 232.4 433.5 236.3 432.8 232.5 432.9 209.7 433.3 236.4 433.3 236.9 433.1 238.2 433.7 232.4 434.4 212 434.3 220.3 434.4 233.1 433.6 226.5 434 222.9 434.1 231.9 434.2 226.5 435 211.6 435.1 216.5 435.2 232.8 434.6 218.3 435.3 218.1 435.9 215.7 435.2 228.9 435.7 207 435.9 203.2 436.2 216.6 435.6 221.2 435.9 218.6 436.2 206.6 437 230.8 436.9 211.9 436.3 213 436.5 227.4 437.2 218.1 437.1 209.9 437.1 233.1 437.4 231.5 437 216.2 438 201.4 437.9 207.9 437.8 213.7 438.1 209.3 438 223 437.6 210.4 438.2 213 438.3 204.9 438.9 215.8 438.6 206.8 438.7 225 439.3 200.2 438.9 230.7 439.2 199.6 439 212.8 439.8 209.7 439.2 223.9 439.3 205.5 439.2 212.3 440 218.7 440 210.4 440.4 205.1 439.7 220.5 440.1 217.2 441 227.5 440.4 212.7 440.4 230.4 440.5 208.7 441.2 231.5 440.9 197.1 440.8 195.4 441.9 209 441.4 199.9 441.7 226.1 441.9 201.6 441.6 214.6 442.3 226.2 442 214.8 442.4 206.2 442.6 215.7 442.6 215.2 442.3 230.2 442.9 211.3 442.8 213.2 443.2 219 442.7 214.5 442.7 220.1 443.3 214.9 443.9 226.7 443.9 217.3 443.2 220.2 443.6 228.5 444.3 229.6 443.6 219.2 443.5 223 444.2 226.4 444.6 218.1 445 208.8 444.4 221 445.5 219.3 444.7 226.1 445.2 215 444.5 200.1 445.8 219.9 445.6 214.5 445.9 193.8 445.6 234.7 446.2 218 446.3 211.2 446.3 225.7 446.2 224.8 447 223.4 446.9 232.8 446.3 219.5 446.8 231.9 447.2 235.5 447.1 225.5 447.4 214.4 446.6 220.8 447.8 226.9 447.9 218.4 447.1 211.7 447.1 231.3 447.9 230.9 448.1 228 448 204.2 447.8 229.8 448.9 208.2 448.6 235.6 448.8 228.6 449 219 448.6 218.7 448.6 235.5 449 237.2 448.9 235.8 449.8 215.8 449.9 224.7 449 231.1 449.7 208.4 450.4 227.4 449.6 215.2 450 212.6 450 215.3 450.2 232.4 450.5 233.6 450.4 241.1 450.7 212.4 450.7 239.1 451.4 219.4 450.9 226.9 450.6 219.1 451.4 224.8 451.8 233.1 451.4 221.4 451.6 237.2 451.9 234.3 451.7 232.9 451.8 231.7 452.2 240.7 452.5 222.2 452.7 237.5 453 228.2 453 229.5 452.7 224.6 452.6 235.1 453.4 240.5 453.2 245.3 453.4 237.6 453.3 235.1 453.9 243.3 453.8 235.5 454.3 234.3 454.4 230.7 453.8 228.3 453.9 241.9 455 241.8 454.1 236.5 454.7 229.2 454.6 237.4 455.1 242.4 455.4 223.4 454.6 233.4 455.3 232.5 455.6 223.6 455.5 237.1 455.2 227.1 455.2 239.6 456 237.5 455.8 232.6 456.3 238.9 456 221.5 456.1 240.1 456.3 233.1 456.3 230.4 456.9 228 456.8 231.6 457.2 241 456.6 235.2 457.1 238.5 457.5 233.8 457.1 233.7 457.2 237.9 457.4 243.4 457.5 243.1 457.6 229.9 458.5 238.2 457.7 234.1 458.7 219.1 458.5 232.8 458.9 237.1 458.2 222.6 459 234.4 459.3 238.4 458.6 226.4 459.2 240.4 459.7 230.6 459.1 234.2 459.7 220.1 459.7 229 460.5 231.3 459.5 224.5 460.1 230 459.6 220.9 460.7 219.8 460.9 222.7 460.3 235.1 460.6 236.5 461.1 243.4 461 209.6 461 227 460.7 223 461.4 218 461.2 233.2 461.7 229.9 461.9 238.3 461.9 232.2 462.3 216 462.2 221.1 461.8 221.2 462.8 229.5 462.8 234.7 462.7 223.5 462.1 229.6 462.5 223.2 463.5 242.3 462.7 234.7 463.2 214.6 463.4 219.6 463.9 214.2 463.9 234.1 464 224 463.7 228.8 463.8 214.7 464.4 239 463.9 226.7 464.9 218.1 464.3 223.2 464.4 225.7 464.8 224.3 465.2 232.9 465.2 234 464.8 234.7 464.7 222.4 465 238.6 465.6 231 465.2 236.9 465.4 233.6 466.5 231.2 466.4 232.1 465.5 228.2 466.3 237.1 467 233.2 466.4 226 466.8 225.2 466.4 225.2 467.3 238.3 467.5 231.1 466.5 229.5 466.6 233.6 467.3 226.1 467.5 238 467.5 238.4 467.9 226.5 467.8 229.7 468.1 229.9 467.9 224.4 467.8 229.6 468.8 226.4 468.4 224.4 468.7 228.7 468.4 224.3 469.3 233.4 469.2 225.8 469.2 231.4 468.7 241.5 469.6 235.8 469.1 236.4 469.2 222 469.1 231.2 470.1 224.4 470 230.6 470.3 222 470.3 234.1 470.8 225.2 470.8 227.4 470 225 471 240.2 470.7 237 471.4 236.8 471.3 235.6 470.7 237.9 471.3 236.6 471.1 233.9 471.3 231.5 471.9 231.7 471.8 239.3 471.7 239.1 472.4 219.9 471.6 219.8 472.5 242.6 473 239.3 472.7 234.1 472.4 236.2 472.7 219.2 473 240.1 473.3 226.5 472.7 239.4 473.7 229 473.2 225.3 473.5 239.3 473.7 234.3 474.3 229.3 474 233.4 474.1 221.8 474.3 235.1 474.8 235.2 474.1 224.9 474.3 239.7 474.8 237.2 475.2 222.3 474.9 236.1 474.6 231.4 474.6 229.4 475.6 228.9 475.4 224.8 475.8 233.4 475 230 476.1 236.6 475.8 232.3 476.1 236 476 224.8 476.2 227.8 476.7 225.9 476.1 226.9 476.1 222 476.8 228 477 230.8 476.6 232.4 476.5 223.8 477.8 226.9 477.2 239.9 477.9 235 477.3 228.1 477.9 227.6 478.3 232.9 477.9 238.4 477.9 236 478.6 240.2 478.6 232.8 478.9 239.4 478 237.7 479 241.3 478.8 226.1 479.1 236.2 479.2 238.6 479.6 230.3 479.1 233.6 479.3 237.4 479.8 224.4 480.4 235.4 480.2 233.3 480 233 479.6 229.9 480.4 230.5 480.3 233.3 480.8 237.6 480.1 230.2 480.7 224 481.3 231.6 480.9 231.3 481.4 239.6 481 229.8 481.9 233 481.1 227.7 481.1 238.7 481.9 234.9 482 234.1 481.6 232.9 481.7 232 482.4 228.8 482.2 227.8 482.1 241.9 482.4 237.2 482.6 236.6 483.1 236.8 482.7 236.2 482.8 229.4 483.6 236.4 483.8 231.6 483.5 235.1 483.7 233 483.8 226.3 484.4 239.9 484.3 238.4 483.7 236.7 484.6 239.8 484.9 228.2 484.2 235.3 484.7 228.6 485 234.5 485.2 237.3 484.9 231.1 485.2 230.2 485.4 239.8 485.9 232.6 485.8 236.1 485.2 237.4 486.3 237.8 486 236.7 485.9 227 486.2 239.7 486.2 227.8 486.1 235 486.7 231.6 486.8 233.5 486.8 232.5 486.9 230.7 487.4 235.9 486.7 236.3 487.7 234.1 487.5 236.1 487.4 233.3 487.8 237.7 488.2 234.8 488.3 237.9 488 230.3 488.2 233.8 488.8 234.6 488.8 226.9 488.3 229.7 488.3 237.6 489.4 237.7 489.3 230.2 488.8 228.1 489.1 234.6 489.9 236.7 489.1 228.8 490 230.3 489.2 234.7 489.7 240.5 490 235.7 490.5 236.3 490.1 231.4 490.3 229.5 490.5 230.8 490.6 232.1 490 237.3 490.6 232.3 491.5 232.6 491.1 240.2 490.8 231.7 491.1 236.2 491.4 232.5 491.7 232.5 491.6 237.7 492.5 237.4 492.2 238.2 492.4 228.5 492.1 232.2 492.6 234.3 492.5 228.7 492.6 238.9 492.6 239.4 493.5 237.3 493 229.8 493.4 237.3 492.6 232.5 493.8 240 493.4 235.6 493.6 235.3 493.6 231 493.7 238.1 494.3 233.6 494.1 234.1 493.8 237.6 494.9 237.1 494.5 234.8 494.1 239.1 494.3 236 495.1 238.7 494.6 236 495.3 240.2 494.7 230.1 495.9 235.2 495.8 241.2 495.8 233.9 495.9 240.1 496.2 232 495.8 240.2 496 234.3 495.7 233.3 496.8 239.3 496.3 239.9 496.5 237.5 496.3 239.4 496.7 240.2 497.2 239.2 496.7 237.8 496.9 241 497.3 237.5 497.8 238.6 497.7 235 497.3 237.8 497.7 241.8 498.1 239.3 497.9 234.7 498.1 243 498.3 242.2 498.8 238.6 498.4 239.2 498.8 243.8 498.9 242.3 499.4 239.2 498.8 245.4 499 242.7 499.9 245.8 499.1 243.9 499.4 246.4 499 247.2 500.3 244.9 500.3 241.6 500.3 245.3 499.6 244.7" stroke="none" marker-start="url(#mb)" marker-mid="url(#mb)" marker-end="url(#mb)"/>
<path d="M113.4 281.6 116.5 281.2 120 280.7 126.6 280 130 278.9 133.3 278.4 136 279.3 138.3 280.7 141.6 284.9 144.9 287 148 287.2 151.6 287.7 155 289.8 158.2 292.3 162 293.8 166.5 294.8 171 294.4 176.5 294.8 180 295.8 183.2 296.5 187 295.4 191.5 294 196.5 294.8 200 296.6 203.1 298.2 208 299.2 213.1 299.8 216.5 299.6 219.8 299 225 296.8 229.7 294.8 235 294.2 239.7 294 240 292.6 244.8 290.2 247.7 292.4 251.9 281.1 255.4 278.1 259 273.9 261.4 276.3 263.8 263.3 266.7 261.5 270.9 262.7 275.6 262.1 279.2 260.3 281.6 258.5 285.7 249.6 288.7 253.8 292.3 260.9 294.6 262.1 297.6 269.2 300 257.9 302.4 265.6 304.1 269.2 306.5 264.4 311.3 259.7 314.8 256.1 317.2 250.8 319.6 264.4 324.3 262.1 327.9 269.2 332.6 252.6 335 253.8 337.4 258.5 338.6 257.1 342.1 254.7 345.7 259.4 348.7 253.5 351.6 260.6 356.1 244.6 358.8 258.3 362.9 253.5 364.1 256.5 367.1 249.9 370.6 248.2 374.2 255.9 377.2 272.5 379.5 258.3 382.5 285.6 385.5 272.5 388.4 258.8 392 270.1 395.6 276.1 397.9 278.4 402.1 261.8 405.1 267.8 406.9 261.8 412.2 266.6 416.4 264.8 419.3 268.3 423.5 258.8 425.9 259.4 428.8 254.7 432.4 256.4 435 251.5 437.1 250.8 440.1 245.5 443.1 250.8 446 244.3 449 252 453.8 262.7 457.9 254.4 459.7 257.9 462.7 250.8 465.6 256.8 468 254.4 470.4 258.5 473.3 253.2 475.7 256.2 478.7 250.8 482.3 252 485.8 249.6 489.4 251.4 494.1 245.5 497.7 253.2 499.8 255.8 503.8 261.7 507.8 262.5 511 264.9 514.2 274.5 519 281.7 523.9 284.9 528.7 280.9 535.1 272.9 541.5 265.7 547.1 263.6 552.7 264.6 559.1 268.9 563.9 276.9 567.1 279.3 572 288.1 576 291.3 580 290.5 586.4 286.5 592.8 282.5 597.6 278.5 604 277.2 612 276.6 620.9 276.2" stroke="#66ff66" stroke-width="6.6"/>
<path d="M255 275.7 255.5 275.3 256 274.8 256.5 274.5 257 274.2 257.5 274 258 273.4 258.5 272.8 259 272.1 259.5 271 260 269.8 260.5 268.6 261 267.4 261.5 266.3 262 265.1 262.5 263.8 263 262.5 263.5 261.3 264 260.5 264.5 260.6 265 260.5 265.5 260.2 266 260 266.5 259.7 267 259.6 267.5 259.5 268 259.5 268.5 259.5 269 259.4 269.5 259.3 270 259.2 270.5 259.2 271 259.1 271.5 259 272 258.9 272.5 258.8 273 258.7 273.5 258.6 274 258.5 274.5 258.3 275 258.2 275.5 258 276 257.8 276.5 257.6 277 257.4 277.5 257.2 278 256.9 278.5 256.6 279 256.3 279.5 256 280 255.6 280.5 254.7 281 253.7 281.5 252.7 282 251.7 282.5 250.7 283 249.8 283.5 248.9 284 248 284.5 247.1 285 246.3 285.5 245.5 286 245.5 286.5 245.9 287 246.4 287.5 247 288 247.6 288.5 248.3 289 248.9 289.5 249.6 290 250.4 290.5 251.2 291 252 291.5 252.9 292 253.7 292.5 254.6 293 255.5 293.5 256.3 294 257.1 294.5 257.8 295 257.6 295.5 257.3 296 256.8 296.5 256.4 297 255.9 297.5 255.6 298 255.2 298.5 255 299 254.6 299.5 254.4 300 254.1 300.5 255.1 301 255.9 301.5 256.9 302 257.6 302.5 258.4 303 259.2 303.5 260.1 304 260.9 304.5 261.1 305 261 305.5 260.8 306 260.6 306.5 260.4 307 260.1 307.5 259.7 308 259.3 308.5 258.8 309 258.4 309.5 257.9 310 257.5 310.5 257.1 311 256.7 311.5 256.3 312 256 312.5 255.5 313 254.9 313.5 254.4 314 254.1 314.5 254.1 315 254.1 315.5 254.4 316 252.5 316.5 249.2 317 245.8 317.5 246.7 318 250.3 318.5 253.9 319 256.1 319.5 256.3 320 256.4 320.5 256.7 321 256.9 321.5 257.3 322 257.7 322.5 258 323 258.3 323.5 258.7 324 259.1 324.5 259.4 325 259.7 325.5 260 326 260.2 326.5 260.3 327 260.5 327.5 260.5 328 260.4 328.5 259.1 329 257.9 329.5 256.6 330 255.4 330.5 254.1 331 252.9 331.5 251.6 332 250.3 332.5 249 333 247.8 333.5 247.4 334 247.5 334.5 247.6 335 247.8 335.5 248 336 248.3 336.5 248.6 337 248.9 337.5 249.2 338 249.6 338.5 249.9 339 250.3 339.5 250.7 340 251 340.5 250.7 341 250.4 341.5 250.1 342 249.8 342.5 249.6 343 249.4 343.5 249.3 344 249.1 344.5 248.9 345 248.7 345.5 248.6 346 248.5 346.5 248.4 347 248.4 347.5 248.4 348 248.3 348.5 248.1 349 247.9 349.5 247.8 350 247.6 350.5 247.3 351 247 351.5 246.8 352 246.4 352.5 246.3 353 246.1 353.5 246.1 354 246.1 354.5 246.2 355 243.5 355.5 240.9 356 238.2 356.5 239.7 357 242.2 357.5 244.8 358 245.7 358.5 245.8 359 245.8 359.5 246 360 246.2 360.5 246.3 361 246.3 361.5 246.2 362 246.1 362.5 245.8 363 245.5 363.5 245.1 364 244.7 364.5 244.3 365 244.1 365.5 244 366 243.9 366.5 243.8 367 243.8 367.5 243.7 368 243.8 368.5 243.7 369 243.8 369.5 243.8 370 244 370.5 244.2 371 244.5 371.5 244.5 372 243.3 372.5 242.1 373 240.9 373.5 243.3 374 245.6 374.5 247.8 375 248.5 375.5 248.8 376 249.3 376.5 249.8 377 250.5 377.5 251.4 378 252.6 378.5 253.7 379 254.8 379.5 255.6 380 256.4 380.5 256.9 381 257.3 381.5 257.5 382 257.6 382.5 257.8 383 257.7 383.5 257.6 384 257.5 384.5 257.4 385 257.2 385.5 257 386 256.8 386.5 256.7 387 255.4 387.5 252.6 388 250 388.5 248.4 389 250.9 389.5 253.3 390 256 390.5 256.1 391 256.4 391.5 256.8 392 257.2 392.5 257.7 393 258.3 393.5 258.9 394 259.4 394.5 259.8 395 260.1 395.5 260.3 396 260.5 396.5 260.5 397 260.4 397.5 260.3 398 260.2 398.5 259.1 399 258.1 399.5 257 400 256 400.5 254.9 401 253.9 401.5 252.8 402 251.7 402.5 251.7 403 252.1 403.5 252.5 404 253 404.5 253.6 405 254.2 405.5 254.4 406 254.6 406.5 254.9 407 255.2 407.5 255.4 408 255.7 408.5 256 409 256.1 409.5 256.2 410 256.2 410.5 256.3 411 256.4 411.5 256.6 412 256.8 412.5 257 413 257.1 413.5 257.3 414 257.5 414.5 257.7 415 257.9 415.5 258 416 258.1 416.5 258.2 417 258.2 417.5 258.2 418 258.2 418.5 258 419 257.7 419.5 257.4 420 257.1 420.5 256.8 421 256.6 421.5 256.3 422 256 422.5 255.6 423 255.2 423.5 254.8 424 254.4 424.5 253.9 425 253.5 425.5 253.1 426 252.8 426.5 252.4 427 252.2 427.5 251.9 428 251.6 428.5 251.4 429 251 429.5 250.7 430 250.3 430.5 249.9 431 249.5 431.5 249.1 432 248.7 432.5 248.3 433 248 433.5 247.6 434 247.3 434.5 246.9 435 246.4 435.5 245.8 436 245 436.5 244.4 437 243.8 437.5 243.5 438 243.3 438.5 243.1 439 242.9 439.5 242.7 440 242.6 440.5 242.3 441 242.1 441.5 241.9 442 241.6 442.5 241.4 443 241.3 443.5 241.2 444 241.2 444.5 241.2 445 241.3 445.5 241.3 446 241.4 446.5 241.7 447 242.6 447.5 243.5 448 244.4 448.5 245.4 449 246.5 449.5 247.6 450 248.7 450.5 249.8 451 250.9 451.5 251.9 452 252.9 452.5 253.3 453 253 453.5 252.6 454 252.2 454.5 251.8 455 251.3 455.5 250.9 456 250.4 456.5 249.9 457 249.2 457.5 248.6 458 248.1 458.5 247.8 459 247.5 459.5 247.3 460 247.1 460.5 247 461 246.9 461.5 246.9 462 246.9 462.5 246.9 463 246.8 463.5 247.2 464 247.6 464.5 248 465 248.4 465.5 248.9 466 249.5 466.5 250.1 467 250.6 467.5 251.2 468 251.4 468.5 251.3 469 251 469.5 250.8 470 250.5 470.5 250.3 471 250.1 471.5 249.9 472 249.7 472.5 249.5 473 249.7 473.5 249.8 474 249.9 474.5 249.9 475 249.9 475.5 249.9 476 250 476.5 250.1 477 250.2 477.5 250.2 478 250.1 478.5 250 479 249.9 479.5 249.7 480 249.5 480.5 249.2 481 249 481.5 248.7 482 248.5 482.5 248.4 483 248.3 483.5 248.3 484 248.3 484.5 248.3 485 248.2 485.5 248.1 486 248 486.5 247.8 487 247.6 487.5 247.5 488 247.3 488.5 247.1 489 246.9 489.5 246.7 490 246.4 490.5 246.3 491 246.1 491.5 246 492 245.9 492.5 245.8 493 245.7 493.5 245.7 494 245.7 494.5 246.3 495 246.8 495.5 247.4 496 247.8 496.5 248.3 497 248.9 497.5 249.5 498 250.2 498.5 251 499 251.9 499.5 252.7 500 253.5 500.5 254.2 501 254.8 501 260 500.5 259.4 500 258.7 499.5 257.9 499 257.1 498.5 256.2 498 255.4 497.5 254.8 497 254.3 496.5 253.8 496 253.4 495.5 253 495 252.6 494.5 252.2 494 251.9 493.5 251.9 493 251.9 492.5 252 492 252.1 491.5 252.3 491 252.4 490.5 252.6 490 252.7 489.5 253 489 253.2 488.5 253.4 488 253.6 487.5 253.8 487 254 486.5 254.2 486 254.4 485.5 254.5 485 254.6 484.5 254.8 484 254.9 483.5 254.9 483 255 482.5 255.1 482 255.3 481.5 255.4 481 255.6 480.5 255.8 480 256.1 479.5 256.3 479 256.4 478.5 256.6 478 256.7 477.5 256.8 477 257.1 476.5 257.4 476 257.7 475.5 258.1 475 258.5 474.5 258.9 474 259.3 473.5 259.7 473 259.9 472.5 260.2 472 260.2 471.5 260.2 471 260.2 470.5 260.2 470 260.2 469.5 260.3 469 260.3 468.5 260.4 468 260.3 467.5 260.2 467 259.9 466.5 259.7 466 259.4 465.5 259.2 465 259.1 464.5 259 464 258.9 463.5 258.9 463 258.8 462.5 258.9 462 258.9 461.5 259.1 461 259.1 460.5 259.3 460 259.5 459.5 259.7 459 260 458.5 260.4 458 260.8 457.5 261.2 457 261.7 456.5 262.1 456 262.5 455.5 262.8 455 263.1 454.5 263.3 454 263.6 453.5 263.8 453 264 452.5 264.2 452 263.7 451.5 262.8 451 261.9 450.5 260.8 450 259.8 449.5 258.7 449 257.7 448.5 256.7 448 255.8 447.5 254.9 447 254 446.5 253.2 446 252.9 445.5 252.7 445 252.5 444.5 252.4 444 252.2 443.5 252.2 443 252.1 442.5 252.2 442 252.2 441.5 252.4 441 252.6 440.5 252.7 440 252.8 439.5 253 439 253.3 438.5 253.5 438 253.8 437.5 254.1 437 254.4 436.5 255 436 255.5 435.5 256 435 256.5 434.5 257 434 257.4 433.5 257.8 433 258.1 432.5 258.5 432 258.8 431.5 259.2 431 259.6 430.5 260 430 260.4 429.5 260.8 429 261.1 428.5 261.5 428 261.8 427.5 262.1 427 262.4 426.5 262.8 426 263.3 425.5 263.7 425 264.3 424.5 264.8 424 265.4 423.5 265.9 423 266.5 422.5 267 422 267.5 421.5 267.9 421 268.3 420.5 268.7 420 269.1 419.5 269.5 419 270 418.5 270.4 418 270.7 417.5 270.8 417 270.9 416.5 271 416 271 415.5 271 415 271 414.5 270.9 414 270.8 413.5 270.7 413 270.7 412.5 270.6 412 270.5 411.5 270.5 411 270.4 410.5 270.4 410 270.3 409.5 270.4 409 270.4 408.5 270.6 408 271.5 407.5 272.3 407 273.1 406.5 273.9 406 274.8 405.5 275.7 405 276.7 404.5 275.7 404 274.7 403.5 273.9 403 273.1 402.5 272.3 402 272 401.5 273.1 401 274.1 400.5 275.1 400 276 399.5 277 399 278 398.5 279 398 280 397.5 280.1 397 280.1 396.5 280.1 396 280 395.5 279.8 395 279.6 394.5 279.2 394 278.4 393.5 277.5 393 276.5 392.5 275.4 392 274.5 391.5 273.6 391 272.9 390.5 272.1 390 271.5 389.5 270.9 389 270.5 388.5 270 388 271.5 387.5 273.5 387 275.6 386.5 277.8 386 279.7 385.5 281.7 385 281.6 384.5 281.5 384 282.8 383.5 286.5 383 290.2 382.5 290.8 382 286.7 381.5 282.5 381 279.9 380.5 279.5 380 279 379.5 279 379 279 378.5 278.7 378 278.5 377.5 278.1 377 278 376.5 275.8 376 273.9 375.5 271.9 375 270.2 374.5 268.4 374 266.6 373.5 264.6 373 262.6 372.5 262.1 372 261.8 371.5 261.5 371 261.3 370.5 261.1 370 261.1 369.5 261.2 369 261.3 368.5 261.5 368 261.7 367.5 261.9 367 262.1 366.5 262.4 366 262.7 365.5 263 365 263.3 364.5 263.6 364 263.8 363.5 264.1 363 264.3 362.5 264.5 362 264.6 361.5 264.6 361 264.5 360.5 264.3 360 264.1 359.5 263.1 359 262.2 358.5 261.4 358 260.6 357.5 259.9 357 259.2 356.5 258.6 356 258.1 355.5 258.3 355 258.5 354.5 258.7 354 258.7 353.5 258.9 353 259 352.5 259.3 352 259.6 351.5 260.1 351 260.5 350.5 261 350 261.4 349.5 261.7 349 262 348.5 262 348 261.9 347.5 261.8 347 261.6 346.5 261.4 346 261.2 345.5 261.1 345 261 344.5 261 344 260.9 343.5 260.9 343 260.9 342.5 260.8 342 260.8 341.5 260.8 341 260.7 340.5 260.7 340 260.6 339.5 260.4 339 260.2 338.5 260.1 338 260 337.5 259.9 337 259.7 336.5 259.6 336 259.5 335.5 259.5 335 259.4 334.5 259.5 334 259.5 333.5 259.6 333 260 332.5 261 332 261.9 331.5 262.9 331 263.9 330.5 264.8 330 265.8 329.5 266.7 329 267.7 328.5 268.5 328 269.5 327.5 269.6 327 269.5 326.5 269.3 326 269.2 325.5 268.9 325 268.7 324.5 268.4 324 268.1 323.5 267.7 323 267.2 322.5 266.8 322 266.4 321.5 265.9 321 265.5 320.5 265.1 320 264.8 319.5 264.5 319 264.3 318.5 264.1 318 263.8 317.5 263.6 317 263.3 316.5 263.2 316 262.9 315.5 262.7 315 262.5 314.5 262.4 314 262.3 313.5 262.4 313 262.5 312.5 262.7 312 262.9 311.5 263 311 263.4 310.5 263.9 310 264.4 309.5 265 309 265.5 308.5 266 308 266.6 307.5 267.1 307 267.5 306.5 267.9 306 268.3 305.5 268.6 305 268.8 304.5 269 304 269.1 303.5 268.9 303 268.6 302.5 268.5 302 268.4 301.5 268.4 301 268.1 300.5 268 300 267.6 299.5 267.4 299 267.1 298.5 266.9 298 266.7 297.5 266.5 297 266.3 296.5 266.2 296 266.1 295.5 266 295 265.9 294.5 265.6 294 265.1 293.5 264.4 293 263.7 292.5 263 292 262.3 291.5 261.5 291 260.9 290.5 260.2 290 259.5 289.5 258.9 289 258.4 288.5 257.9 288 257.5 287.5 257.1 287 256.7 286.5 256.4 286 256.2 285.5 256.3 285 256.9 284.5 257.5 284 258.2 283.5 258.9 283 259.7 282.5 260.4 282 261.2 281.5 262 281 262.8 280.5 263.6 280 264.4 279.5 264.7 279 264.9 278.5 265.1 278 265.2 277.5 265.4 277 265.5 276.5 265.6 276 265.6 275.5 265.7 275 265.7 274.5 265.7 274 265.6 273.5 265.6 273 265.6 272.5 265.5 272 265.4 271.5 265.3 271 265.2 270.5 265.2 270 265.1 269.5 265 269 264.9 268.5 264.9 268 264.9 267.5 265.1 267 265.5 266.5 266 266 266.6 265.5 267.5 265 268.1 264.5 268.6 264 268.6 263.5 269.2 263 270.3 262.5 271.3 262 272.4 261.5 273.3 261 274 260.5 274.9 260 275.6 259.5 276.6 259 277.3 258.5 278.1 258 278.6 257.5 279.2 257 279.4 256.5 279.7 256 280 255.5 280.5 255 280.9Z" fill="#66ff66" fill-opacity="0.9" stroke="none"/>
<marker id="mg" markerUnits="userSpaceOnUse" markerWidth="4" markerHeight="4" refX="2" refY="2" viewBox="0 0 4 4"><circle cx="2" cy="2" r="1.3" fill="none" stroke="#66ff66" stroke-width="0.9"/></marker>
<path d="M254.9 278.6 255.4 279.6 254.6 279.2 255 277.2 255.4 279.1 255.9 276.9 255.5 278.3 255.5 277.9 256.5 275.8 255.7 277.2 256.3 276.8 255.9 277.6 256.5 273.7 256.7 274.4 256.9 275.9 256.6 277.2 256.7 276.1 257.2 276.2 256.8 276.8 256.7 276.7 257.5 277.2 257.6 277.6 257.4 273.1 257.7 274.3 257.8 275.3 258.3 275.2 258.3 271.5 257.8 276.7 258.7 274.9 258.8 273.5 258.4 272.7 258 277.5 258.9 274.4 259.3 275 259.3 273.2 258.7 270.8 259 272.9 259.6 271.6 259.7 270 259.6 273.1 259.7 269.5 259.8 272.3 260.1 271.9 260.3 272.9 260.1 270.6 260.9 269.7 260.3 272.4 260.3 270.9 261.5 272.3 260.7 269.8 261.4 268.6 260.5 269.8 261.3 271.1 261.1 267.8 261.3 268.1 261.5 267.5 262.2 268.5 262.1 263.2 261.8 266 261.6 265.4 262.9 269.2 262.5 267.7 262.4 265.6 262.6 267.2 263.5 265 262.8 267.3 262.6 266.4 262.6 263.9 263.9 258.9 263.5 264.9 263.3 267.5 264 262.3 263.7 264.8 264.3 263.7 264.2 265.1 263.6 255.9 264.7 258.7 264.8 264 264.9 261.4 264.8 264.2 265 260.6 265.4 263.7 264.9 265.4 264.6 266.1 265 264.1 265.4 266.3 265 263.5 265.3 265.7 266.2 256.2 266.2 259.2 265.6 257.7 265.9 263.8 267 263.3 266.7 257.3 266.7 261.6 266.5 261.5 266.6 263 266.7 264.3 267.1 261.8 267 260.1 267.2 264.2 267.1 261.4 267 260.4 267.7 267.1 268.3 262.8 268.1 262.1 268.3 263.9 268.3 259.6 268.1 265.9 268.7 259.1 268.8 264.6 268.6 267.2 269.1 264.4 268.6 262.1 268.9 258.9 268.9 260 269.4 261.3 269.7 262.6 269.4 262 269 263.5 270.4 263.6 269.6 259.9 270.3 262.7 270.3 262.1 270.4 257.9 270.9 260.6 270.6 256.9 270.1 262.9 271.2 259.1 271 260.7 271.4 266 270.9 265.2 271.9 260 271.3 263.7 271.3 263.7 271.7 261.5 272.4 260.5 271.6 264.1 272.1 258.6 271.6 262.7 272.2 262.9 272.5 257.3 272.6 257.7 272.3 261.9 273.4 260.4 272.7 261.6 272.9 260.6 272.9 265 273.9 264.2 274 260 273.7 263.3 273.9 261.9 274.2 260.3 273.7 259.9 274.2 261.7 273.9 267.2 274.3 261.9 274.3 260.1 274.3 258.2 274.8 258.7 275.4 266.9 274.7 262.7 275 261.2 274.7 265 275.8 263.7 275.3 259 275.4 265.6 275.3 265.3 276.5 259.6 276.2 267.9 276.5 261.3 276.1 260.1 276.9 259.9 276.2 258 276.2 263.9 276.1 265.2 277 260.9 277.2 265.8 277.3 262.3 276.8 260.9 277.1 256.2 277.9 257.4 277.8 265.7 277.2 257.7 277.7 261.5 277.6 259 277.9 256.6 277.6 262.3 278.9 254.3 278.5 263.8 278.3 262.2 278.9 259.5 278.6 256.5 279.3 263 278.6 262.8 279.2 262.6 279.8 258.4 279.8 261.7 279.7 257.8 279.4 264.6 280.3 267.1 279.9 264.6 279.8 254.9 279.7 255.4 280.5 266.9 280.5 260.5 280.9 260.3 280.1 257.8 281.2 263.1 280.6 264.3 280.7 257.1 281.3 265.8 281.7 248.7 281.5 255.5 281.7 250.3 281.7 255.3 282.4 255.2 282 260.4 282.5 258.2 282.4 251.5 282.1 263.9 282.7 255.2 282.1 256.6 282.6 254.7 282.6 255 283.3 259.6 283.1 251.3 283.5 253.9 283.1 255.9 283.3 244.8 283.8 247.4 283 255.3 283.6 250.4 284.1 251.7 283.8 246.1 284 256.5 284.3 244.8 284.2 245.5 284.9 255.1 284.2 255.6 285.2 246.6 284.9 254.1 285.1 253.4 285.4 250.4 285.3 248.1 285.8 244 285.5 251.6 285.1 251.9 286.5 244.5 285.5 253.5 285.9 253.9 286.4 244.2 286.8 255 286.4 249.8 286.6 253.7 286.7 246.9 286.6 241.4 286.8 245.4 287.3 242.9 287.4 248.9 288 252.7 287.7 257.4 287.8 257 287.9 249.5 287.6 246.6 287.9 255.1 287.9 247.4 287.6 250 288.8 256.2 288.9 256.3 288.6 244.9 288 254.3 289.5 254.5 288.6 247.7 288.9 256.8 288.8 256.5 289.4 252.4 289.3 255.9 289.6 256.2 289.9 253.3 289.9 256.1 290.1 248.3 290.2 259.5 289.9 255.3 290.9 250.5 290.6 257.8 290.7 255.7 290.7 249.7 290.9 262.9 291.4 262 290.6 249.3 291.1 249.3 291.7 259.2 291.4 257.2 291.5 257.9 291.4 255.5 291.9 264.4 292.3 255.5 291.7 258.3 291.5 254.9 292.6 256.1 292.4 263.6 292.4 254.6 292.9 259.4 292.5 261.4 293.2 262.3 293.4 259.4 292.5 257.3 294 260.7 293.8 262.6 293.7 259.7 293.8 262.4 293.6 262.7 294.3 262.7 293.6 261.5 293.5 252.9 294.8 266.6 295 258.8 294.1 265.7 294.3 263.2 294.6 265.3 295 255.4 294.8 263.2 295.4 262.8 295.8 254.8 295.6 265.6 295.1 260.8 295.7 262 296.1 263.7 296.1 261.2 296.1 252.5 296.4 262.7 296.9 259.7 296.1 262.6 296.5 255.9 296.6 256.4 297.3 258.5 297.3 263.1 297.2 259.6 296.5 260.1 297.4 258 297 263.2 297.4 263.2 297.3 257.2 298 257.1 297.7 253 298.3 265.4 297.6 264 298.3 260.2 298.7 262.4 298.1 258.2 298.8 258.5 299.3 265 298.8 262.1 299.3 254 299.4 251.9 299.2 252.3 299.1 258.4 299.3 265.1 299.6 260 299.7 254.9 299.7 251.9 299.9 262.4 300.2 265.5 300.5 262.7 300.1 253.2 300.8 262 300.6 262.8 300.9 254.3 301 248.3 301 269.9 301.1 263.8 301.2 270.1 301.4 262.7 301.7 264 301.4 259.9 302.5 266.3 302 265.1 301.9 269.7 302 257.5 302.1 263.5 302.4 261.4 302.5 263 302 262.2 303.5 265.6 303.2 261.8 303.3 261 302.9 262.2 303.4 262.4 304 269.3 303.6 266.3 304 264.9 304.1 265.3 304.1 264.2 304.4 261.3 303.7 263.3 304.5 258 304.8 266.6 304.4 263.1 304.1 266.2 304.9 271.1 305 272.4 304.7 263.5 305.4 266.9 305.9 265.4 305.1 260.8 305.9 264.3 305.9 269.5 306.1 265 305.7 263.2 306 263.1 305.6 268.2 306.5 265.4 306.9 260 306.1 270.8 306.7 261.7 306.6 265 307 256.4 307 262.6 306.8 263.7 307 265.7 307.4 267.9 307.2 266.6 307.1 264 307.9 262.2 307.5 266.2 308 258.7 307.8 259.8 308.7 264.3 308.3 261.9 309 263.4 308.8 263.8 309 263.3 308.7 263.4 309.1 261.2 308.5 262.4 309.3 261.9 309.8 260.5 309.6 262.7 309.6 265.8 310 261.2 309.6 260.2 309.8 256.4 310.5 263.8 310.2 261.3 310.4 262.3 311 262.8 310.3 262.2 311.2 256.4 311.1 257.4 311 260.1 311 260.5 311.2 261.9 311.3 262.5 311.9 259.4 311.6 259.4 312.4 257.8 312.2 260.9 311.9 256.5 311.6 260.8 312.3 255.5 312.9 256.3 312.9 262.3 312.5 261.5 313 257.9 313.1 256.7 313 259.9 312.5 257.6 313.6 259.1 313.5 258.3 313.6 257 313.5 254.5 314.2 254.5 314.3 261.6 314 255.1 314.4 258.3 314 259.1 314.6 255.4 314.2 262 314.1 260.8 315.1 264.1 315.3 258.9 315.4 255.5 314.6 261.6 315.5 264 315.7 261.6 315.5 257.2 315.2 264.3 316 254 316.5 261 316.3 255.8 316.4 253 316 260.6 316.7 261.8 316.2 251.6 316.9 260.6 317 251 317.1 262.7 316.9 257.2 317.2 234.1 317.9 257.5 317.6 253 317.3 264.9 317.8 266.2 317.9 255.1 318.2 245.1 318 251.4 318.2 262.6 318.5 260.6 318.3 257.6 318.9 265.8 318.1 259.7 318.6 264.7 318.9 266.8 319.4 257.8 318.6 256.1 319.6 267 319.5 265.1 319.9 262.3 319.6 254.5 319.6 260.1 320 257.4 319.7 262.3 320.2 265.2 320.8 258.7 320.9 263.9 320.5 267.2 320.7 262.4 320.8 256.2 320.8 256.9 320.6 266.5 321.4 260.1 321.4 260.2 321.4 267 322 260.5 321.1 257.2 322 261.6 322.4 263.5 322.4 261.8 321.8 261 322.8 261 322.5 259 323 260.8 322.4 259.2 322.5 266.6 322.8 268.4 322.8 255.2 322.9 262.3 323.3 268.8 323.7 256.8 323.1 261.5 323.2 262.3 323.8 266.2 323.7 264.8 324.2 260.9 324.2 264.5 324.6 256 324.4 266 324.4 265.2 324.9 269.6 324.9 260.6 324.6 264.7 325 267.2 325.4 271.9 325 266.5 325.6 256.1 325.4 265.8 325.3 261.4 326.4 260.6 326.1 267 326.3 262.2 325.8 261.5 326.5 260.6 326.2 265.5 326.8 262 326.1 263.6 327 264.9 326.9 262.7 326.5 269.2 327.1 266.8 327.9 264.3 327.4 267 327 267 327.2 264.7 327.7 264.3 328.1 263.2 327.5 266.9 328 269.1 328.5 272.6 328.4 260.9 328.7 260.6 328.7 261.4 328.8 265 329.3 270.7 329.1 268.6 329.4 256.6 329.8 258.5 329.5 268 329.5 259.6 329 268.2 330.3 258.7 330.4 260.4 330.2 255.4 330.1 254.7 330.5 254 330.4 258.1 330.9 265.1 330.5 264.4 331 257.4 331.4 260.6 331 259.5 330.7 266.7 331.4 248.2 331.9 257.9 331.5 254.7 331.4 260.1 332.5 257.2 332 258.2 331.7 258.6 332.4 255.8 332.5 251.6 332.3 256 332.6 259.7 332.5 255.6 332.8 248 333.1 251.4 332.7 258.4 333.3 253.7 333.5 250.7 333.6 257.7 333.6 256 333.5 249.9 334.3 253.8 333.8 252 334.5 259.1 334.5 255.5 334.2 243.5 334 257.1 334.5 253.9 334.7 253.4 334.7 242.2 335.4 257.1 334.8 251.4 334.7 254.9 335.6 250.3 335.1 261 335.2 260.6 335.4 255.8 335.8 257.2 335.5 256.5 335.8 245.5 336 252.5 336.3 259.5 336.3 252.1 336.4 253.9 336.7 263.4 337.4 254.8 336.6 255.7 336.8 246.5 337.1 255.7 337.3 250.6 337.9 262.8 337.2 262.2 337.7 258.8 338.5 247.5 338.1 259.7 338 257.6 337.7 250.8 338.7 250 338.5 262 338.4 255.6 338.2 256.3 339.3 252.5 339.3 254.1 339.4 258 339 253 339.1 261.8 339.3 254.1 340 254.5 339.2 258.8 339.6 258.3 340.3 260.6 339.6 257.7 340.2 252.2 340.5 254 340 253.6 340.1 249.2 340.8 262.4 341.1 252.1 341.5 252.3 340.9 256 341.2 249.9 342 246.6 341.1 263.8 341.8 256.4 341.5 257.5 342.1 254.8 342.1 249.2 341.8 258 342.3 255.6 342.1 258.4 343 246.1 342.3 261 342 256.8 343 248.9 342.8 257.8 342.6 253.9 342.5 252.5 343.8 264.3 343.1 258.9 344 244.8 343 247 344.1 250.7 343.7 251.4 343.7 247.8 344.1 260.7 344.9 248.7 344.5 261.9 344.5 256.9 344 251.7 345.4 255.8 345.1 257.6 345 248.3 345 250.9 345.7 264.6 345.4 256 345.3 250.2 345.7 256.7 345.7 260.6 346.4 260.5 345.8 257.5 345.9 253.8 346.7 249.4 346.2 263 346 250.3 346.5 254.1 347.2 252.8 346.8 256.7 347.3 245.1 346.8 259.5 347.1 259.6 347.1 260.2 347.4 248.9 347.1 260.6 348.2 261.7 347.7 257.3 348.1 252.1 348.4 255.4 348.3 259.7 348.4 258.6 348.1 259.3 348.3 264.7 348.6 253 348.7 264.7 348.7 256.5 349.2 257.8 349.5 252.3 349.7 255.7 349 243.8 349.8 256.5 349.9 257 350.1 245.7 350.3 241.5 349.9 246.5 350.4 253.9 350.9 251 350.8 244 350.8 243.1 350.7 254 350.8 260.7 351.1 248.4 351.3 246.8 351.8 247.9 351.6 245.2 351.1 254.4 351.3 255.7 352.3 243.9 352.3 255.8 352.1 252.3 352.2 247.6 352.1 256 352.9 252.7 352.3 256.1 352.4 250.7 353.4 256.2 353.2 258.6 352.9 251.3 352.6 245.3 353.5 244.6 353.7 250.2 353.1 252.8 353.1 249.4 354.5 252.1 353.9 258 354.2 257.3 354 253.5 354.6 246.4 354.4 244.1 354.7 253.2 354.7 241.3 354.7 252.2 354.9 252.4 354.6 262.7 355.4 254.7 355.4 238.9 355 262.4 355.1 258.1 355.5 237.7 356.1 249.9 355.8 255.8 355.9 259.6 356 248.2 356.2 244.3 356.4 254.9 356.9 262.9 356.4 257.2 357.3 245.1 357.1 249.5 357.5 242.2 356.9 256.3 357.6 260.4 357.8 250.3 357.6 251.5 357.5 256.1 357.7 251.7 357.9 255.5 358.1 250.4 358.4 250.9 358.7 243.9 358 261 358.5 252.2 358.8 247 359.3 253.2 358.6 269.2 358.5 252.8 359.4 259 359.8 250.2 359.2 253.4 359.5 258.9 359.1 254.8 360.4 252.1 359.7 247.7 360.2 251.9 360.5 257.3 360.2 264.2 360.2 251.7 360.3 258.6 360.9 252.5 361.5 258.7 361.1 254.7 361 260.5 361.2 262.3 361 256.4 361.4 264.2 361.7 266.1 362 265.3 361.8 260.7 362.4 252.5 362.2 256.6 362.1 266.2 362.1 246.4 362.6 259.2 362.3 253.7 362.8 265.5 363 245.3 363.4 245.6 363.2 243.4 363.3 242 364 253.6 363.8 260.7 363.9 241.6 363.5 253 363.8 262.6 364.2 244.9 364.4 244.2 364.1 252.7 364.2 254.6 365 255.8 364.1 253.3 364.8 264.9 365.4 253.5 365.3 256.9 365.4 250.8 364.9 268.4 365.8 255.8 365.7 242.8 365.6 250 365.9 263.1 366 244.5 365.8 256.1 366.2 247.1 366.2 243.4 366 250.5 367 248.9 366.5 253.5 366.6 251.5 367 245.1 367 241.7 367.1 257.3 367.3 247 367.4 260.5 367 253 367.4 265.2 367.2 260.6 368.1 251.3 367.8 249.2 368.4 245.4 367.6 255.5 368.3 247.6 368.9 260.1 368.3 247.8 368.4 250.4 369.5 248.4 369.1 254 369.4 254.8 369.2 243.9 369.1 268.4 369.8 266.1 369 249.3 369.4 264 370.3 250.8 370.5 255.3 369.9 255.8 370 248.1 370.8 258.9 370.8 256.8 371 260.7 370.4 269.1 370.5 245.7 370.8 253.2 371.3 259.9 371.2 252.6 371.8 265.4 371.6 260.9 371.5 261.8 371.7 252.9 372.2 252.1 372.4 244.6 371.9 254.8 372.1 244.5 372.1 247.3 372.7 265 372.1 254.8 372.9 261.8 373 257.4 373 240.2 373.5 236.9 372.7 257 373.6 263.8 373.3 263.3 373.5 265.2 374 241.1 374 233.9 374.3 258.6 373.9 273 373.9 261.7 374.3 250.5 375 256.8 374.6 261.3 374.9 263.4 375 243.3 375.1 259.4 375.1 239.9 375.1 250.1 375.5 259.7 375.4 258.6 375.7 277.8 375.6 240.8 376.2 265.5 376.5 262.3 375.9 261.9 375.5 273.6 376.4 272.3 376.8 265.1 376.3 256.7 376.5 255.1 376.7 269.9 376.9 251.7 376.7 277 376.6 246.9 377.7 255.4 377.2 248.2 377.1 256.3 377.9 249.9 378.1 284.4 378 282.4 378.3 265.2 378.5 250.7 378.4 257.1 378.8 265 378.5 256.2 378.1 248.3 378.7 258.6 378.7 272.2 378.8 261 378.9 280.2 379.2 253.4 379.4 265 379.8 268.8 379.7 266.2 380.3 271.3 379.8 271.8 379.5 260.8 379.9 273 380.6 256.2 380.7 274.4 380.8 267.9 380.3 244.1 381.1 269.5 381.3 263.6 381 252.8 381.3 270.4 381.2 271.4 381.7 286.5 381.9 277.8 381.6 268.5 381.5 265.5 382 264.8 381.5 257.5 381.6 272.6 382.4 266.5 382.7 264.6 382.3 274.6 382.6 266.9 383 273.7 383.4 287.9 383.3 293.1 382.9 246.7 383 270.2 383.3 252.8 384 248.6 383.4 277.8 384.4 269.6 383.5 261.7 383.6 273.4 384.3 278.7 385 266 384.4 243.1 384.7 279 384.8 285 384.6 268.9 385.3 265.8 385.5 270.2 384.9 276.9 385.9 274.2 385.7 272.6 385.6 273.4 385.8 276.5 386.4 254.3 386.1 275 386.4 266.6 386.4 255.8 386.9 269.1 386.9 285.1 386.5 277.2 386.1 267.1 386.8 251.2 387.2 258.6 387 247.4 386.6 276.3 387 271.3 387.8 263.4 387.2 260.5 388 275.2 388 267.7 387.6 244.7 388.2 258.5 387.6 259 388.1 250.9 388.1 258.1 388.6 260.3 388.6 258.4 389.1 239.3 388.8 263.1 389 270.4 388.5 261.6 389.3 259.5 389.1 255.5 389.2 257 389.1 248.6 390 250.4 390.5 267.9 390.2 261.8 390.4 265.5 390.4 255.8 390.3 263 390.7 264.3 390.5 268.1 390.7 270.4 390.5 245.6 391.3 273.3 391.1 264.6 391.4 267.5 391.8 251.8 391.9 275.8 391.7 261.4 391.8 269.9 392.1 280 391.9 275.6 392.1 256.6 392.2 279.4 392.1 258 392.6 268.7 392.4 266.3 392.6 278.3 392.5 265.8 393.1 267.1 393.2 265.7 394 278.2 393.3 252 393.5 270.2 393.7 280.7 393.9 257.9 393.9 256.8 394.4 277.3 393.7 269.2 394 276.4 394.6 268.3 394.9 263.2 394.3 273.5 394.8 256.9 395 264 395 255.2 394.8 264.9 395.6 272.5 395.2 261.7 395.1 284.6 395.5 263.2 395.8 256 395.7 255.8 395.9 281.4 396.2 262 396.3 267.7 396.9 275.6 396.6 272.5 396.7 268.2 397.2 270 397.4 277.9 396.8 253.7 397 277.9 397.7 264.9 397.9 271.5 397 276.9 397.9 269.3 398.1 271.8 397.8 263.3 398.2 264 397.6 257.8 398.5 269.8 398.1 277.9 398.4 265.6 398.9 265.6 398.9 273.7 398.9 271.8 399.1 269.2 398.6 272.8 399.5 264.8 399.6 263.2 399.7 254.9 399.3 281.4 399.9 252.9 399.7 250.7 399.9 266.8 400.1 281.6 400.7 240 400.6 273.3 400.6 253.5 400.3 250.1 401.5 257.2 401.2 270.1 401.5 270.8 401.2 273.4 401.9 264.3 401.6 268.7 401.4 267.7 401.6 265.9 401.9 243.2 401.5 248.2 401.5 271.9 401.5 264.9 402.5 271.1 402.2 263.5 402.1 241.1 402.2 257.8 403.3 259.8 403.3 265.5 403.1 242.6 402.9 271.9 403.5 273.2 403.2 252.2 403.8 265.8 403.8 273.3 404 264.2 403.5 272.7 403.7 266.7 403.6 279 404.7 267.1 404.4 271 404.7 279.3 404.5 254.4 404.7 268.2 404.6 275.9 405.1 247.7 405.2 258.6 405.7 266.7 405.1 252.9 405.5 268.2 405.8 270.5 405.8 277 406.1 260.4 406 277.9 406.5 267.9 406.9 267.6 406.5 269 406.4 262.3 406.2 264.2 407.2 261.5 406.9 259 407.4 264.1 406.7 279.1 407.5 251.9 408 268.8 407.1 265.1 407.8 256.2 408.4 260.7 407.6 271.7 407.9 262.8 408.4 249.9 408.3 257.7 408.6 260.5 408.8 259 408.7 263.3 408.6 254.6 409.3 264.2 409 263.6 409.2 267.2 409.9 263.1 409.4 249.6 409.4 261.6 410 272.7 410 266.6 409.9 271.5 410.5 264.9 410.1 261.3 410.2 265.5 410.3 264.9 410.8 272.8 410.2 259.7 411.1 257 410.7 265.6 410.9 266.5 411.1 265.4 411.6 257.8 411.1 265.5 411.5 272.4 411.7 266.6 411.9 268.1 411.7 265.5 412.4 272.5 411.8 254.5 412.1 264.9 412.7 256.5 412.7 259.3 412.5 260.2 412.9 250.5 413.4 263.9 412.9 261.4 413.3 266 413.1 268.5 413.7 262.7 413.2 257.5 413.4 256.9 414.3 264.9 413.9 268.6 414.2 264.6 414.1 261.8 414.8 265.4 414.2 261.4 414.2 267.7 414.8 261.4 415.3 255.7 414.9 260.8 414.8 264.9 415.3 275.1 415.8 269.1 415.2 260.2 415.2 257 415.6 264.2 415.9 262.9 416.1 251.7 416.1 257.1 415.7 259.1 416.6 269.7 416.5 262.8 416.5 262.8 416.1 256.9 417.1 260.7 417.4 270.5 417.4 265.5 417.1 268.2 417.2 270.5 417.7 263.5 417.9 270.2 417 260.7 417.7 254.5 418.2 262.6 417.6 260.4 418.3 258.7 418.1 263.1 418.7 265.7 418 268 418.4 263.2 418.8 254.2 419.1 270.7 418.8 260.6 419.2 262.2 419.6 266 419.6 262.1 419.8 265.9 419.1 264.5 419.8 253.3 419.6 268 420.5 269.9 420.4 266.3 420.3 250.6 420.9 266.5 420.6 255.3 420.4 268.6 421.4 261 421.4 259.1 420.5 266.9 421.3 261.2 421.9 266.6 421.4 262 421.3 265.9 421.2 254.6 421.8 259.9 422.4 255.3 422.1 262 422.1 262.8 422.5 254 422.8 260.7 423 266.2 422.5 249.3 422.7 261 423 258.3 422.9 262 422.6 262.1 423.3 252.2 424 266 423.7 264.8 423.7 262.7 423.9 265.8 423.6 254.6 423.8 258.3 423.9 256.5 424.4 265.5 424.8 260.7 424.2 254.8 424.1 259.3 425.1 254 425.3 257.8 425.3 255.3 424.6 262.6 425.4 259.3 425 250.4 425.9 261.2 425.4 256 426.5 254.5 425.6 250.4 426.1 254.3 425.6 258.2 426.4 252.8 426.1 253.6 426.5 256.5 426 258.8 427.2 251.8 426.9 260.7 427.4 253.7 427.1 261 427.7 262.3 428 257.7 427.8 256.7 427.4 258.1 427.9 254.1 427.6 250.7 428.2 257.7 428 257 428.4 258 428.1 257.8 428.9 255.9 428.1 259.9 429.3 257.7 429.2 253.1 428.9 258.3 428.7 257.3 429.7 256.9 429.5 255.1 429.9 251.3 429.6 256.2 430.2 257 429.6 260.1 430.1 250.5 430.4 255.6 430.3 257 430.6 253.5 430.9 253.5 430.5 259.3 430.9 253.5 431.4 257.6 430.9 249.1 431.3 262.6 431.2 249.7 431.2 248.7 431.8 245 431.4 254.6 431.6 246.5 432.2 251.7 431.7 250.3 432.3 256.2 432.8 244.2 432.5 253.4 432.7 257.1 432.4 254.3 432.6 249 433.3 254.4 433.2 252.6 433.5 261.1 433.8 248 433.1 255 433.3 258.8 433.3 248.9 434.2 255.2 434.3 249.7 434.5 253.7 434 258.4 434.3 255.6 434.8 254.1 434.4 254.6 434.6 257 434.8 252.4 435.3 247 435 250.9 434.8 253.1 435.6 252.1 435.7 243.7 435.4 245.3 435.6 252.8 435.7 249.3 436 253 435.7 252.2 436.1 255.5 436.2 247.8 436.3 252.5 437 246 436.4 246.6 436.9 251 436.7 243.8 437 248.4 437.1 248.1 437.4 244.8 437.1 241.2 437.1 242.3 437.9 254.7 437.8 241.3 438.2 247.4 437.6 242.8 437.8 246.7 438.5 240.6 438.7 248 438 245.4 438.7 248.8 438.7 245 439.4 251.2 438.6 243.4 439 250.8 439.3 255.7 439.8 242.4 439.7 247.7 439.1 245.7 440.5 252.7 439.7 249.2 439.8 251.9 439.8 244.6 440.4 244.3 440.8 237.9 440.9 253.7 440.3 256.2 440.9 248.9 441 249.1 441.5 250.2 441.4 237.9 441.5 247.3 441.1 245.7 441.2 248.7 441.5 250.8 441.8 243 442.3 236.7 442.2 244.2 442.1 242.8 442 245.4 442.1 248 442.3 245.8 442.5 249.4 443.1 243.6 443.4 247.3 443.1 247.3 443.1 243.3 443.8 248.6 443.4 252.6 443.5 245.5 443.3 254.1 443.8 250 443.9 251.2 443.6 247.5 444.2 251.3 444.9 244.9 444.6 241.6 444.1 248.9 444.7 247.9 444.6 255.1 445.3 246.4 445.1 248.2 445.1 240.1 445.6 256.4 445.4 247 445.6 247 445.3 244.4 446.2 250.3 445.6 241.1 445.7 253.1 446.4 255.9 446.2 242.4 446.8 250.7 446.2 244.1 446.9 251.1 446.7 251 446.8 247.3 447.5 244 447.5 249.8 447 255.1 447.1 252.2 448 247.1 447.7 256.3 448.4 241.6 448.4 247.7 448 250.4 448.1 241 448.5 252.1 448.6 256.7 448.3 257.3 448.4 249.9 449.1 255.7 448.9 243.4 448.9 251.3 449.5 247.2 449.2 260.8 449.3 252.9 449.2 253.1 449.9 251.7 449.7 252.7 450 249.6 449.9 253.2 450.3 259.3 450.1 258.1 450 257.5 450.2 256.3 450.1 247.8 451.3 263.9 451.3 260.1 450.6 258.2 450.7 259.8 451.7 261.6 451.5 257.3 451.6 258.1 451.9 257.2 452.2 265.7 452.2 260 452.4 260.7 452.2 258.8 452.5 255.4 452.6 253 452.1 262.6 452.6 261.2 453.4 269.8 452.5 258.8 453.3 258.9 453.3 256.6 453.1 263.5 453.3 255.8 453.4 266.5 453.9 255.6 453.9 256.5 454.5 254.4 453.9 258.8 454.2 266.4 454.5 263.2 454.2 268.3 454.8 265.7 454.4 255.4 455.5 254 455.4 253 455.2 250.7 455.3 263.3 455.6 262.5 455.9 256.2 455.8 256.7 455.8 253.6 455.6 248 455.6 256.4 455.8 264.6 455.5 261 456.6 262.9 456.7 258.3 456.2 255.5 456.1 259.9 456.6 251.6 457.2 253.3 457.5 256.4 457.1 254 457.1 244.9 457.2 261.2 457.3 252.8 457.5 258.6 458.3 251 458.4 257.3 458.3 257.8 457.5 245.9 458.7 257.8 458.6 248.2 458.2 249.7 458.1 258.7 458.6 255.3 459.4 262.2 458.7 257.8 459.4 253.9 459.6 249 459.4 254.3 459.8 258.6 459.8 253 460.2 257.5 459.5 255.5 460.1 246.6 459.9 253.6 460.2 257.5 460.1 255.9 460.8 255.6 460.8 258.7 461.1 259.2 460.6 252 460.9 250.3 460.8 242.4 461.8 257.6 461.1 250.7 461.2 252.2 461.9 242 461.6 255.8 461.8 250.4 462 257.6 462.2 252.6 462 256.3 462.5 249.2 462.3 253.9 462.1 243.3 463.3 248.4 463.3 245.3 462.8 261.6 463.1 241.6 463.5 250.7 463.2 255.9 463.1 251.9 463.5 261 463.7 250.7 464.2 258.1 464.5 256.5 463.9 244.1 464.5 249.4 464.3 254 464.3 261.5 464.7 252.5 464.7 261.6 465.1 249.7 464.7 260.8 464.8 253.9 465.7 253.8 465.3 261.1 465.1 245.8 465.6 244.1 465.6 247.4 465.7 255 465.6 246.5 466.2 256 466.1 249.3 466.4 251.1 466.1 252.2 466.6 259.4 466.7 260.1 466.8 259.8 467.5 254.4 467.1 254.6 467.2 253.7 467.4 251 467.2 259.3 467.4 262.4 468.4 253.1 468.2 256.7 468.2 260.7 468.4 257.8 468.9 258.7 468.2 247.1 468.2 250.6 468.5 252.3 468.8 253.7 469.4 251.1 469.4 257.4 468.6 256.7 469.8 255.9 469.5 250.6 469.1 250.2 469.9 261.6 470.3 252.4 470.3 252 469.6 253.5 469.6 255.2 470.5 254.9 470.5 248.8 470.5 262.5 470.1 257.1 471.3 251 471.1 256.3 470.7 258 470.7 258.4 471.9 256.2 471.2 255.4 471.4 252.8 471.3 253.6 471.7 252.2 472.2 255.1 472 255.3 471.9 258.3 472.3 252.5 472.2 253.9 472.1 253 472.7 257.2 473.2 249.5 472.5 258.1 472.9 256.4 473.4 252.6 473.8 253.8 473.9 255.4 473.6 251.7 474 259.4 474.4 255.9 473.5 255.3 474 256.2 474.5 257.8 474.2 253.9 474.4 254.4 474.9 251.2 474.2 247.6 475.4 259.1 475 252.1 475.3 260.4 475.2 251.2 475.8 258.2 476 255.6 475.9 251.9 475.5 249.8 475.5 251.9 475.6 248.7 475.6 254.1 476.1 257 476.2 253 476.4 256.7 476.3 255.9 476.9 254.1 476.6 254.7 476.9 251.4 476.6 257.3 476.6 251.3 477.2 250.4 477.9 251.7 477.3 255.5 477 254.8 477.5 257.6 478.3 252 478.2 249.7 478.2 251.2 478.7 256.2 478.7 253.5 478.3 254.5 478.3 253.3 478.8 254.3 479.3 249.5 478.5 252.3 478.8 251.8 479.9 250.7 479.4 255.4 480 249.8 479.9 253.6 479.7 247.9 479.7 250.5 480.5 251.9 480.2 248.4 481 252.5 480.1 253.2 480.4 251.1 480.1 250.7 480.5 258.5 480.6 250.4 481.5 253.2 481.2 254.4 482 253 481.8 248.2 481.9 250.3 481.2 248.3 482.5 252.4 481.9 248.7 482.4 249.7 482.1 255.5 482.3 257.2 482.9 246.7 482.8 252.5 482.1 250.2 483.2 249.5 482.9 253.9 482.8 254 482.8 249.8 483.4 252.6 483.2 256.2 483.4 248 483.5 251 484.4 248.8 483.8 252.8 483.6 252.4 484 254.9 484.2 250.7 484.1 253.8 484.3 250.5 484.5 249.6 484.5 252.3 485.2 255.6 485.2 256.4 485 249.3 485 256 485.8 253.5 485.5 248.4 485.2 249.5 486 246.5 485.8 256 486.2 250.8 486.1 255.1 486.2 250.2 487 250.9 486.5 250.8 486.9 253.4 486.8 254 486.7 252.4 486.8 254.9 487.5 252.1 487.7 248.1 487.1 253.8 487.1 250.7 487.9 251.9 488.1 250.5 487.5 248.8 488 248.2 487.7 250 488.7 251.7 488.4 249.6 488.8 248.6 488.2 247.6 489.5 246.1 489 250.7 489.3 247.8 489.3 250.4 489.2 252.6 489.8 253.8 489.1 249.3 489.1 252.1 489.8 251.7 490.1 246.6 490 250.8 489.9 250.3 490.2 246.7 490.5 246.9 490 252 490.3 249.4 490.9 245.4 491.1 249.6 491.1 245.9 490.7 250.1 491.5 248.4 491.6 246.3 491.8 254 491.9 249 492.2 251.1 491.8 248.4 492.3 245.5 491.7 246.2 492.9 253 492.3 253.2 492.6 249.2 492.9 251.5 493.4 250.6 493.2 251.9 492.7 246 492.7 251.1 493.6 249.9 494 247.3 493.1 250.9 493.5 247.5 494.3 247.6 493.8 251.6 493.5 251 494 249.5 494.9 250.6 494.7 249.4 494.8 253.4 494.3 245.4 495 246.8 495 248.2 494.7 248.4 494.6 253.4 495.9 251.5 495.1 250.9 495.7 254 495.3 249.3 496.3 251.4 496 250.3 495.6 250.1 496.1 255.3 496.9 253 496.6 253.1 496.2 251.2 496.1 250.7 497.2 251.3 496.9 252.7 496.7 256.3 496.8 250.2 497.8 252.4 497.5 253.4 497.6 254 497.5 254.7 498 254.9 497.9 252.6 498.4 252.4 498.1 249.3 498.5 255.3 498.6 253.2 498.2 251.9 498.9 255.6 499.2 256.4 499.2 256.2 499.1 251.9 498.9 255.6 499.4 254.3 499.3 253.9 499.6 256.3 499.6 256.3 499.9 256.3 500.1 256.3 499.9 257.8 499.6 258.7 500.7 259.2 501 256.9 500.2 255.1 501 256.1 500.7 258 500.6 256.3 500.6 257.6 501.4 259.6" stroke="none" marker-start="url(#mg)" marker-mid="url(#mg)" marker-end="url(#mg)"/>
<path d="M113.4 285.7 120 284.9 126.6 283.7 133.3 283.5 137 284.6 139.9 285.8 142.4 283.3 144.9 290.8 148 291.3 151.6 291.6 155 294.4 158.2 297.4 162 298.5 166.5 299.1 170 298.9 174.8 299.1 177 300.5 179.8 302.1 185 299.9 189.8 298.3 193 298.5 196.5 299.1 200 301.3 204.8 303.8 210 304.1 216.4 304.1 223 301.7 229.7 299.1 236 298.5 240 296.4 244.8 295 249.5 295.7 253.1 288.2 256.6 285.8 259.6 282.9 262 282.3 264.9 269.2 268.5 264.4 273.3 259.1 278 254.9 280.4 257.9 285.1 250.8 287.5 258.5 291.1 266.8 294 269.2 297 273.9 300 260.3 301.8 268 304.7 271.6 307.7 265.6 313.6 258.5 317.2 253.2 319 269.2 324.3 264.4 327.9 272.8 333.2 255.5 336.2 258.5 337.4 260.6 342.1 257.1 345.7 261.8 348.7 254.7 351.6 264.2 356.4 246.4 358.8 259.4 362.9 257.1 364.7 258.8 367.7 250.5 370.6 252.3 374.2 259.4 377.2 278.4 379.5 259.4 382.5 289.1 385.5 276.1 388.4 263 392 278.4 395.6 280.8 397.9 285.6 402.1 264.2 405.1 273.7 406.9 266.6 412.2 270.7 416.4 270.1 419.9 273.7 424.1 264.2 426.4 263 428.8 260 432.4 261.8 435 256.5 436.5 255.6 440.1 251.4 443.1 257.9 446 250.8 449.6 259.1 453.8 266.3 456.7 261.5 459.1 265.1 462.7 257.9 466.8 263.3 470.4 263.3 473.3 260.9 475.7 262.1 478.7 256.8 482.3 257.4 485.2 253.2 489.4 256.2 494.1 249.6 497.7 257.9 499.8 260.1 503.8 265.7 507.8 264.1 511 266.5 514.2 277.7 519 284.9 523.9 287.3 528.7 283.3 535.1 274.5 541.5 268.1 547.1 266.5 552.7 267.3 559.1 272.1 563.9 279.3 567.1 282.5 572 291.3 575.2 294.5 580 293.7 586.4 289.7 592.8 286.5 597.6 282.5 604 281.4 612 280.6 620.9 280.1" stroke="#ff6b6b" stroke-width="6.6"/>
<path d="M262 277.4 262.5 274.5 263 273.3 263.5 270.5 264 268.1 264.5 267.5 265 267 265.5 266.2 266 265.4 266.5 264.6 267 263.8 267.5 263 268 262.3 268.5 261.6 269 260.9 269.5 260.3 270 259.7 270.5 259.1 271 258.5 271.5 257.9 272 257.4 272.5 256.8 273 256.2 273.5 255.7 274 255.1 274.5 254.6 275 254.1 275.5 253.6 276 253 276.5 252.4 277 251.7 277.5 251.1 278 250.4 278.5 250.7 279 251 279.5 251.2 280 251.4 280.5 251.7 281 251.9 281.5 252.2 282 251.8 282.5 251.4 283 251 283.5 250.6 284 250.2 284.5 249.8 285 249.4 285.5 249.1 286 249.5 286.5 250.4 287 251.3 287.5 252.3 288 253.3 288.5 254.3 289 255.4 289.5 256.6 290 257.7 290.5 258.9 291 260 291.5 261.1 292 262.2 292.5 263.2 293 264.3 293.5 265 294 265.1 294.5 265.1 295 265 295.5 264.8 296 264.5 296.5 264.4 297 264.2 297.5 263.7 298 263.1 298.5 262.5 299 261.9 299.5 261.6 300 262 300.5 262.4 301 262.7 301.5 263.1 302 263.3 302.5 263.7 303 264 303.5 264.5 304 264.7 304.5 264.8 305 264.5 305.5 264.1 306 263.7 306.5 263.2 307 262.7 307.5 262.1 308 261.5 308.5 260.9 309 260.2 309.5 259.5 310 258.9 310.5 258.2 311 257.5 311.5 256.8 312 256.1 312.5 255.3 313 254.6 313.5 254 314 253.5 314.5 253.1 315 252.9 315.5 252.6 316 252.3 316.5 250.9 317 249.7 317.5 250.3 318 252.3 318.5 254.2 319 255.6 319.5 256.2 320 257 320.5 257.6 321 258.5 321.5 259.2 322 260.1 322.5 260.8 323 261.6 323.5 261.9 324 262.1 324.5 262.3 325 262.5 325.5 262.6 326 262.7 326.5 262.8 327 262.8 327.5 262.8 328 262.7 328.5 261.9 329 261.2 329.5 260.4 330 259.6 330.5 258.7 331 257.9 331.5 257 332 256.2 332.5 255.3 333 254.4 333.5 253.7 334 253.2 334.5 253.2 335 253.2 335.5 253.2 336 253.3 336.5 253.4 337 253.5 337.5 253.7 338 253.9 338.5 254.1 339 254.3 339.5 254.5 340 254.7 340.5 254.2 341 253.6 341.5 253 342 252.3 342.5 252 343 251.7 343.5 251.4 344 251.1 344.5 250.8 345 250.5 345.5 250.3 346 250.1 346.5 249.9 347 249.9 347.5 249.8 348 249.6 348.5 249.4 349 249.1 349.5 248.9 350 248.7 350.5 248.5 351 248.2 351.5 248 352 247.7 352.5 247.5 353 247.4 353.5 247.3 354 247.3 354.5 246.1 355 244.1 355.5 242 356 241.5 356.5 243.4 357 245.3 357.5 246.9 358 246.9 358.5 246.9 359 247.1 359.5 247.4 360 247.8 360.5 248.2 361 248.7 361.5 249.1 362 249.4 362.5 249.4 363 249.1 363.5 248.8 364 248.4 364.5 248 365 247.7 365.5 247.3 366 247 366.5 246.7 367 246.5 367.5 246.2 368 246 368.5 245.9 369 246.1 369.5 246.2 370 246.5 370.5 246.8 371 247.2 371.5 247.8 372 248.5 372.5 249.3 373 250.1 373.5 250.9 374 251.5 374.5 252 375 252.4 375.5 252.7 376 253.3 376.5 253.8 377 254.6 377.5 255.3 378 256.2 378.5 257 379 257.7 379.5 258.2 380 258.6 380.5 259.3 381 259.9 381.5 260.4 382 260.8 382.5 261.2 383 261.5 383.5 261.6 384 261.9 384.5 262.2 385 262.3 385.5 262.5 386 262.5 386.5 261.5 387 260 387.5 258.6 388 257.3 388.5 256.4 389 257.3 389.5 258.2 390 259.3 390.5 260.3 391 261.4 391.5 262.6 392 263.9 392.5 264.5 393 265.3 393.5 266.1 394 266.8 394.5 267.3 395 267.8 395.5 268 396 268.3 396.5 268.3 397 268.3 397.5 268.2 398 268 398.5 267.4 399 266.8 399.5 266.3 400 265.8 400.5 265.4 401 264.9 401.5 264.4 402 263.8 402.5 263.1 403 262.4 403.5 261.8 404 261.3 404.5 261.3 405 261.3 405.5 261.5 406 261.6 406.5 261.9 407 262.2 407.5 262.5 408 262.7 408.5 262.9 409 263.1 409.5 263.2 410 263.3 410.5 263.4 411 263.6 411.5 263.8 412 263.9 412.5 264.1 413 264.2 413.5 264.4 414 264.6 414.5 264.7 415 264.9 415.5 265.1 416 265.3 416.5 265.4 417 265.5 417.5 265.5 418 265.5 418.5 265.3 419 265 419.5 264.7 420 264.3 420.5 264 421 263.6 421.5 263.3 422 262.9 422.5 262.5 423 262 423.5 261.5 424 261 424.5 260.5 425 260 425.5 259.5 426 259.1 426.5 258.7 427 258.3 427.5 258 428 257.6 428.5 257.4 429 257.1 429.5 256.8 430 256.4 430.5 256.1 431 255.6 431.5 255 432 254.4 432.5 253.9 433 253.3 433.5 252.7 434 252.1 434.5 251.5 435 250.8 435.5 250.2 436 249.5 436.5 248.9 437 248.3 437.5 248.4 438 248.4 438.5 248.6 439 248.7 439.5 248.9 440 249 440.5 249.1 441 248.9 441.5 248.4 442 248 442.5 247.6 443 247.2 443.5 246.9 444 246.6 444.5 246.4 445 246.2 445.5 246 446 245.7 446.5 246.6 447 247.4 447.5 248.3 448 249.1 448.5 250 449 250.9 449.5 252 450 253 450.5 254 451 254.9 451.5 255.8 452 256.6 452.5 257.4 453 258.2 453.5 259 454 259.7 454.5 260.5 455 261 455.5 260.9 456 260.6 456.5 260.4 457 260.1 457.5 259.7 458 259.3 458.5 258.8 459 258.4 459.5 258 460 257.7 460.5 257.4 461 257.1 461.5 256.8 462 256.6 462.5 256.4 463 256.4 463.5 256.5 464 256.6 464.5 256.8 465 257 465.5 257.2 466 257.4 466.5 257.7 467 257.9 467.5 258.2 468 258.5 468.5 258.7 469 258.9 469.5 259.1 470 259.2 470.5 259.3 471 259.2 471.5 259 472 258.8 472.5 258.5 473 258.3 473.5 258 474 257.7 474.5 257.4 475 257 475.5 256.7 476 256.4 476.5 256.1 477 255.9 477.5 255.6 478 255.4 478.5 255.1 479 254.8 479.5 254.6 480 254.3 480.5 254 481 253.7 481.5 253.5 482 253.2 482.5 253 483 252.9 483.5 252.7 484 252.6 484.5 252.5 485 252.4 485.5 252.2 486 252.1 486.5 251.8 487 251.6 487.5 251.3 488 251.1 488.5 250.8 489 250.6 489.5 250.3 490 250.1 490.5 249.9 491 249.7 491.5 249.5 492 249.3 492.5 249.2 493 249.1 493.5 249 494 248.9 494.5 249.5 495 250.3 495.5 251.2 496 252.1 496.5 252.7 497 253.2 497.5 253.9 498 254.6 498.5 255.4 499 256.2 499.5 257 500 257.8 500 263 499.5 262.2 499 261.4 498.5 260.6 498 260 497.5 259.4 497 258.9 496.5 258.4 496 257.9 495.5 257.5 495 257.1 494.5 256.8 494 256.5 493.5 256.6 493 256.6 492.5 256.7 492 256.8 491.5 256.9 491 257 490.5 257.2 490 257.3 489.5 257.5 489 257.7 488.5 257.9 488 258.1 487.5 258.3 487 258.5 486.5 258.7 486 258.9 485.5 259 485 259.1 484.5 259.2 484 259.3 483.5 259.4 483 259.5 482.5 259.6 482 259.8 481.5 260 481 260.2 480.5 260.5 480 260.7 479.5 261 479 261.2 478.5 261.4 478 261.7 477.5 262 477 262.2 476.5 262.5 476 262.8 475.5 263.1 475 263.4 474.5 263.7 474 264.1 473.5 264.4 473 264.7 472.5 264.9 472 265.2 471.5 265.4 471 265.6 470.5 265.8 470 265.8 469.5 265.9 469 265.9 468.5 266 468 266 467.5 265.9 467 265.9 466.5 265.8 466 265.8 465.5 265.8 465 265.8 464.5 265.9 464 265.9 463.5 266 463 266.1 462.5 266.2 462 266.4 461.5 266.5 461 266.7 460.5 266.8 460 267.1 459.5 267.3 459 267.6 458.5 267.8 458 268.2 457.5 268.4 457 268.7 456.5 268.8 456 269 455.5 269 455 269.1 454.5 268.8 454 268.4 453.5 268 453 267.6 452.5 267.2 452 266.8 451.5 266.4 451 265.9 450.5 265.3 450 264.6 449.5 263.7 449 262.9 448.5 262.1 448 261.3 447.5 260.6 447 259.9 446.5 259.3 446 258.6 445.5 258.9 445 259.2 444.5 259.5 444 259.8 443.5 260.2 443 260.6 442.5 261 442 261.5 441.5 262.1 441 262.7 440.5 262.9 440 262.5 439.5 262.2 439 261.8 438.5 261.4 438 261.1 437.5 260.8 437 260.6 436.5 260.9 436 261.3 435.5 261.8 435 262.2 434.5 262.6 434 263 433.5 263.4 433 263.8 432.5 264.2 432 264.5 431.5 264.9 431 265.2 430.5 265.6 430 266 429.5 266.4 429 266.7 428.5 267 428 267.3 427.5 267.6 427 268 426.5 268.4 426 268.8 425.5 269.3 425 269.8 424.5 270.4 424 271 423.5 271.6 423 272.1 422.5 272.6 422 273.1 421.5 273.6 421 274.1 420.5 274.5 420 274.9 419.5 275.3 419 275.8 418.5 276.1 418 276.4 417.5 276.5 417 276.5 416.5 276.5 416 276.5 415.5 276.4 415 276.3 414.5 276.2 414 276.1 413.5 276 413 275.9 412.5 275.8 412 275.8 411.5 275.7 411 275.6 410.5 275.7 410 275.9 409.5 276.1 409 276.3 408.5 276.4 408 276.5 407.5 276.6 407 276.7 406.5 276.6 406 276.7 405.5 276.8 405 277 404.5 277.3 404 277.6 403.5 278.2 403 278.9 402.5 279.8 402 280.6 401.5 281.4 401 282.1 400.5 282.7 400 283.2 399.5 283.9 399 284.5 398.5 285.2 398 285.9 397.5 286.3 397 286.5 396.5 286.6 396 286.7 395.5 286.6 395 286.4 394.5 286.1 394 285.7 393.5 285.1 393 284.5 392.5 283.8 392 283.3 391.5 282.2 391 281.3 390.5 280.3 390 279.5 389.5 278.6 389 278 388.5 277.2 388 278.5 387.5 280.2 387 282.1 386.5 284 386 285.3 385.5 285.1 385 284.7 384.5 284.3 384 285.3 383.5 287.4 383 289.6 382.5 289.7 382 286.8 381.5 283.8 381 281.4 380.5 280.8 380 280.2 379.5 279.6 379 280.6 378.5 281.8 378 283 377.5 281.6 377 279 376.5 276.3 376 274.7 375.5 274.1 375 273.9 374.5 273.5 374 272.8 373.5 271.5 373 270.1 372.5 268.6 372 267.1 371.5 265.8 371 264.5 370.5 263.4 370 262.4 369.5 261.5 369 260.7 368.5 259.9 368 259.7 367.5 260 367 260.3 366.5 260.6 366 260.9 365.5 261.3 365 261.7 364.5 262.1 364 262.5 363.5 262.9 363 263.4 362.5 263.7 362 263.8 361.5 263.6 361 263.3 360.5 263 360 262.7 359.5 262.4 359 262.2 358.5 261.8 358 261.5 357.5 261.1 357 260.9 356.5 260.6 356 260.4 355.5 260.6 355 261.1 354.5 261.5 354 261.9 353.5 262.3 353 262.7 352.5 263.2 352 263.9 351.5 264.6 351 265.2 350.5 265.9 350 266.5 349.5 267.1 349 267.3 348.5 267.2 348 267.1 347.5 267 347 266.7 346.5 266.5 346 266.3 345.5 266.1 345 266 344.5 266 344 266 343.5 266 343 266 342.5 265.9 342 265.8 341.5 265.6 341 265.2 340.5 264.9 340 264.5 339.5 264.4 339 264.3 338.5 264.2 338 264.1 337.5 264 337 263.9 336.5 263.9 336 263.9 335.5 264 335 264 334.5 264.1 334 264.2 333.5 264.8 333 265.6 332.5 266.5 332 267.5 331.5 268.4 331 269.3 330.5 270.2 330 271.1 329.5 271.9 329 272.8 328.5 273.6 328 274.4 327.5 274.4 327 274.2 326.5 274 326 273.7 325.5 273.4 325 273.1 324.5 272.8 324 272.4 323.5 272 323 271.7 322.5 271.9 322 272.2 321.5 272.2 321 272.4 320.5 272.5 320 273 319.5 273.4 319 274 318.5 272.5 318 271 317.5 269.5 317 268.1 316.5 266.5 316 265.1 315.5 264.9 315 264.9 314.5 264.7 314 264.7 313.5 264.8 313 265 312.5 265.4 312 265.8 311.5 266.1 311 266.6 310.5 267.3 310 267.9 309.5 268.5 309 269.2 308.5 269.8 308 270.4 307.5 271 307 271.5 306.5 272 306 272.5 305.5 272.9 305 273.2 304.5 273.4 304 273.6 303.5 273.6 303 273.6 302.5 273.7 302 273.7 301.5 273.9 301 274 300.5 274.1 300 274.1 299.5 274.2 299 274.2 298.5 274.3 298 274.4 297.5 274.5 297 274.6 296.5 274.3 296 274 295.5 273.8 295 273.6 294.5 273.2 294 272.8 293.5 272.3 293 271.6 292.5 270.8 292 270 291.5 269.1 291 268.3 290.5 267.4 290 266.5 289.5 265.6 289 264.6 288.5 263.8 288 263 287.5 262.3 287 261.6 286.5 261 286 260.3 285.5 259.9 285 259.6 284.5 259.3 284 259 283.5 258.8 283 258.6 282.5 258.4 282 258.2 281.5 258.2 281 258.3 280.5 258.6 280 258.8 279.5 259 279 259.2 278.5 259.4 278 259.6 277.5 259.8 277 260.1 276.5 260.3 276 260.5 275.5 260.8 275 261.1 274.5 261.5 274 261.9 273.5 262.4 273 262.8 272.5 263.3 272 263.8 271.5 264.2 271 264.7 270.5 265.2 270 265.7 269.5 266.2 269 266.7 268.5 267.4 268 268.2 267.5 269.1 267 270.1 266.5 271.2 266 272.4 265.5 273.5 265 274.4 264.5 274.9 264 275.4 263.5 277.6 263 278.8 262.5 280.2 262 283.3Z" fill="#ff6b6b" fill-opacity="0.9" stroke="none"/>
<marker id="mr" markerUnits="userSpaceOnUse" markerWidth="4" markerHeight="4" refX="2" refY="2" viewBox="0 0 4 4"><circle cx="2" cy="2" r="1.3" fill="none" stroke="#ff6b6b" stroke-width="0.9"/></marker>
<path d="M262.5 279.6 261.9 282.8 262.4 279.7 262.4 281 262.9 278.7 262.4 281.2 262.3 277.1 262.8 278.4 262.7 273 262.7 276.2 262.8 277.7 262.7 271.4 264 272.6 263.4 272.4 263.9 273.4 263.2 274.2 263.9 272.3 263.8 270 263.8 272.1 264.2 269.2 265 270 264.2 270.6 265 270 264.1 271.1 264.6 269.1 264.6 269.8 265.2 268.8 264.9 271.1 265.1 268.8 265.9 268 265.5 262 265.5 268.5 265.9 265.9 266.4 271.4 265.6 269.4 266.2 263.1 266.8 268.6 266.3 264.7 266.9 269.1 266.5 267.7 267.5 262.1 266.6 269.6 266.6 268.9 267.4 266.6 267.2 260.9 267.1 263.7 267.9 266.3 267.5 268.6 267.9 264.5 268.2 264.5 268.5 265.5 267.7 264.1 268.4 260.9 268.7 264 268.5 265.3 268.7 263.2 268.6 264.2 268.5 260.9 268.6 266.6 269.2 265.1 269.9 266.3 269.2 262.8 269.9 260.5 269.9 262.3 269.7 259.5 269.8 265.9 269.7 260.1 269.6 266 270.1 267.2 270.9 265.7 271 261.5 271 263 271 263.6 271.5 259 271.2 264.1 271.2 264.2 271.1 256.4 271.8 260.2 271.4 265.8 271.4 262.3 272.2 258.9 272.1 260.8 272 258 272.3 263.8 272.1 264.7 272.6 260.1 272.4 265.3 272.4 257.6 272.8 260 273 260.1 273.1 260 272.5 265.7 273.3 257.4 273.7 263.8 273.3 257 273.6 260.9 273.6 258.3 274.4 259.8 274.1 263.6 274 258.8 274.2 261.4 274.4 258.9 274.1 261.9 274.1 260.2 275 255.7 275.4 253.2 275.2 258.9 274.9 257.8 275.7 257.4 275.4 255.7 275.3 259.4 275.7 257.6 276.3 257.5 275.8 253.7 276.5 252 276.3 261.3 276.9 257.2 276.5 253.6 276.2 255.2 276.8 257.4 276.7 249.6 277.2 261.8 277.3 252 276.8 258.7 277.6 250.3 277.9 255.9 277.2 251.8 277.7 253.3 278.5 257.8 277.7 252.7 278.2 256.6 277.6 254.4 278.7 257.4 278.1 256 278.9 248.1 278.2 255.4 278.7 252.7 278.6 257.5 278.6 258.6 279.5 250.8 280 249.9 279.1 254 279.4 257.4 279.1 259.3 280.3 247.5 279.9 253.3 280.5 256.3 279.6 254.6 280.1 248.1 280.9 255.9 280.7 257.3 280.2 256.6 281.4 251.7 280.8 257.1 280.5 255.8 281.1 256.1 281.2 256.7 281.4 255.5 281.7 257.8 281.5 253.5 281.9 254.1 282.4 253.1 281.9 254.3 282 255.8 282.4 258.3 282.4 258 282.1 253.9 282.6 249.4 282.9 259.7 282.5 255.9 282.8 250.3 283.5 255.6 283.9 248.5 283.7 251.3 283.4 250.6 283.5 260 283.5 257.7 284.4 257.8 283.9 252.6 284.3 248.5 284.7 246.7 284.6 256.4 284.5 257 284.2 253.5 285.5 257.5 284.5 252.3 284.8 249.9 285.1 258 286 258.6 285.6 257.7 285.6 248.5 285.9 255.5 286.2 261.6 286.3 256.7 285.5 248.2 285.9 254.8 286.5 259.3 286.5 247.4 286.7 261 286.1 253.3 286.5 254.5 286.7 249.2 286.6 253.9 286.7 260.8 287.1 257.4 287.8 250.5 287.8 257.8 287.2 259.8 288.2 261.1 287.6 253.7 288.4 254 287.7 251.9 288.9 261.6 288.8 261.2 288.7 251.1 289 258.2 289 264.4 288.5 264.9 288.8 257.4 289.3 265 289.1 264.3 289.4 254.8 289.3 264.7 289.6 259.6 290.4 258.7 290.4 262.6 289.5 258.6 290.2 267.2 290.7 258 290.7 265 290 261.4 290.5 262.2 290.8 264.2 291.1 265.1 291.1 266.1 290.8 265.3 291.2 262.8 291.8 257.9 291.8 265.9 291.9 266 291.8 266.3 292.4 263.9 291.6 268.6 291.6 262.9 292.1 265.3 292.9 265 292 259.9 292.5 267.9 292.6 263.3 293.1 271.7 293.2 268.5 292.7 269 293.3 266.2 293.6 270 293.6 267 293.5 273.6 293.8 271.8 294 268.1 293.8 268.7 293.5 270.2 294.4 267 294.8 263.5 294.5 272.5 294.2 271 295.4 274.7 295.2 273.7 295.3 268.7 294.8 273 295.7 270.2 295.5 276.7 295.2 273.4 295.4 266.3 296.1 270.3 296.4 271.3 296.3 262.1 296 266.1 296.2 266.9 296.2 268.4 296.6 263.1 296.3 266.4 296.8 267.2 297 264.8 296.7 267.4 296.8 270.6 297.4 267.2 297.1 267.2 297.3 262.3 297.9 265.9 298.3 271.9 297.7 269.5 297.5 272.7 297.7 264.4 298.3 262.4 298.3 280.3 298.5 272.4 298.8 279.7 299 276.8 298.8 268.7 299.1 265.7 299 265.3 299.9 274.8 299.7 262.3 299.7 273.8 299.7 273.4 300.1 273.2 299.8 276.4 300.2 274 299.7 260.9 300.7 267.4 300.2 267.1 300.9 260.2 300.1 265.7 301.2 278.3 300.9 262.3 301.4 264.3 300.7 269.4 301.9 273.1 301.7 269.1 301.3 262.7 301.1 274.7 302.2 266.6 302.2 272.2 301.8 262.7 302 264.6 302.4 274.2 302.6 273 302.9 266.1 302.2 274.8 302.9 268.4 303.3 265.2 303.3 265.1 302.7 275.4 303.5 267 303.1 267.9 303.2 270.5 303.2 268.2 304.4 266.3 303.5 265.2 304.2 266.3 303.8 265.5 304.1 268.7 304.3 265.4 305 268.4 304.9 272.5 304.6 269 304.8 267.3 305.2 272.3 305.4 264.4 305.2 274.6 305.2 274 305.8 270.9 305.9 269.4 306.2 270.7 306 265.3 305.9 263.2 306.4 264.7 306.2 263.1 306.8 268.4 306.9 270.1 306.2 276.3 307.2 265.4 307 266 307.2 266.6 306.8 268.1 307.8 266.1 307.2 269.9 307.4 263.3 307.7 270.6 307.9 268.7 307.6 273.1 307.7 260.6 308.1 270.6 308.9 262.1 309 264.2 308.6 271.8 308.8 265.3 309.2 265.8 309.1 267.2 309.1 272.8 309.1 266.9 309.4 264.7 309.9 262.6 309.7 262.8 309.2 264.1 309.8 267 310.2 263.5 310.4 261.2 310.4 262.6 310.7 256.4 310 259.2 310.5 262.2 310.4 263.4 310.7 257.9 311.4 262.2 311 260.9 311.1 259.9 311.5 257.6 311.3 257 311.3 261.5 311.6 263 311.7 259.4 312.3 265.5 311.8 262.5 312.3 258.1 312.2 261.3 313 265.5 312 260.9 312.5 266.7 312.7 268.8 313.2 257.7 312.7 258.9 312.5 262.5 313.7 260.6 313.9 251 313.5 263.6 313.4 264.4 313.8 253.9 313.5 255.7 313.5 267.4 313.8 265.6 314 259.7 314.2 247.7 314.3 266.2 314.5 251.4 315.1 255.2 314.7 253.5 315.2 253 314.5 257 315.2 256.8 315.3 250 315.1 266.1 315.2 254.3 316.3 268.8 316.5 263.1 315.9 261.5 316.1 258 316.5 257.4 316.4 261.6 316.7 251.6 316.2 250.5 316.7 265.1 317.1 259.1 317.2 247.6 317.2 259.6 317.8 257.3 317.8 263.7 317.1 253.4 317.8 254.7 318.3 259.7 317.5 263.2 317.8 255.2 318.4 262.6 318.4 255.9 318.4 250.9 318.4 272 318.6 260.2 318.5 249.3 318.8 254.4 319 260.9 318.7 283.4 319.2 257.9 319.8 269.9 319.4 262.1 319.8 270.6 319.9 268.4 320 266.2 319.9 268 320.1 271.9 320.5 266.4 320.9 270.3 320.3 258.2 320.8 266 320.9 261.4 321.3 266.5 320.9 273 320.8 275.6 321.2 258.1 321.2 262.2 321.9 257.5 321.1 267.8 321.5 272 322.1 275.1 321.7 261.5 321.8 268.8 322.3 269.2 322.6 265 322.5 264.9 322 267 323.3 274.2 323.4 266.1 323.4 258.9 323.3 266.8 323.6 258 323.3 267.2 323.7 271.6 323.5 266.7 323.8 263.9 323.9 264 324 265.4 323.6 269.8 324.9 264.4 324.4 268.5 324.1 256.9 324.4 267.6 324.7 265.8 324.8 274.6 324.6 258.4 324.6 267.6 325.5 267.8 325.1 270 326 268 325.4 268.2 325.8 263.6 326.5 258.5 325.9 269.6 325.5 268.4 326.8 265.5 326.5 268.2 326.4 262.6 326.7 273.3 326.9 261.9 327.2 264.3 326.9 265 327.1 268.2 327.6 274.2 327.2 263.2 327.5 279.4 327.6 263.7 328.5 260.4 327.7 266.5 327.6 280.8 328 260.8 328.7 272.6 328.2 267.3 328.5 265.8 328.8 274.2 328.6 275.3 329 276.5 328.8 265.7 329.3 257.6 329.1 261.8 329.8 260.1 329.5 266.4 329.3 266.9 330 269.4 330.4 264 330 269 329.7 269.8 330.5 268.7 330.6 263.9 330.5 262.4 330.8 263.4 331.5 261.9 330.6 259.4 331 263.8 331.1 254.3 331.2 262.5 331.2 260.5 331.6 256.1 331.6 264.8 331.8 260.2 332.4 259.7 332.1 270 332.4 267.2 333 260.2 332.4 255.7 332.4 252 332.9 268.5 332.8 261.2 333.3 265.9 333.2 266.8 332.8 257.8 333.2 260 333 257.3 333.3 263.1 333.6 257.7 334.1 265.6 334.2 262.4 333.6 263.5 333.7 260.2 334.7 260.6 334.4 256.6 334.7 254.8 335 263.2 334.8 263.8 335 261.3 335.4 261.9 335.2 251.6 335.3 267.6 335.9 257.9 335.3 265 335.9 257 336.2 255.5 335.5 263.7 336.4 260.4 336.3 262.4 336.7 255.7 336.7 266.3 336.2 257.5 336.5 257.3 336.8 256.1 336.6 257.2 337.4 261.6 337.4 257.7 337.4 253.2 337.4 259 337.8 263.1 337 258.5 337.9 258.5 337.7 264.6 338.3 261.6 338.3 250.6 338.8 260.7 339 261.7 338.3 252.8 338.8 263.7 338.8 258.1 339.3 255.4 339.3 264.5 339.4 254.7 339.2 265.5 339.7 266.5 339.4 255 339.8 262.8 339.6 258.3 339.6 263 339.6 261.6 339.7 263.7 340.1 253.8 340.4 263.9 340.4 253.4 340.3 262.2 340.6 268.4 341 255.3 340.6 256.5 340.9 252.9 341.7 270.3 341.9 269.2 341.8 259.7 341 265.7 341.6 267.6 341.9 261 342.4 256.6 342.1 255.3 342.5 258.8 342.3 253.1 342.7 258.8 342.2 253.9 343.4 260.7 343.1 261.1 342.5 262.4 343 258.3 343.1 260.2 343.4 256.7 343.6 259.3 343.2 256.9 343.7 258.6 344.1 252.9 343.5 259.4 343.8 264 344.6 244.2 344 267.4 344.8 262.7 345 245.1 345.4 257.4 345.2 266.2 344.9 256.2 344.8 255.5 345.2 255.3 345.3 259.2 345.8 265 345.2 265.9 345.8 257.9 346.4 262.9 346.4 255.7 346 258 346.6 262.4 346.9 269.5 346.2 256 346.8 263.7 347.3 261.4 347.1 257.3 347.1 258.9 347.2 258.8 348 257.7 347.3 242.5 347.3 260.9 347.6 257.9 348.4 251.1 347.6 260.1 347.9 262.2 348.4 255.1 348.6 256.2 348.3 264.3 348.4 248.4 348.3 253 348.7 250.6 348.9 250.6 349.3 260.7 348.8 264.2 349.9 265.5 349.6 265.8 349 262.5 349.5 260.2 349.7 264.1 349.5 259.8 349.9 252 350.2 255.4 350.8 262.6 350.7 265.8 350.2 243.4 350 250.8 350.7 263.3 351.4 251.6 351.1 244.1 351.1 254.1 351.3 260.3 351.2 247.5 351.2 263.7 351.3 253.6 352 249.2 351.7 262 351.8 253.9 352.1 257.5 352.2 246.9 353 251.6 352.8 261.3 352.6 258.3 352.9 254.7 352.7 261.8 352.6 248.1 352.5 254.8 353.6 256.8 353.5 246.7 353.7 256.4 353.4 245 354.2 251.7 354.3 260.9 353.8 252.9 353.6 252 354.2 249.3 354.1 260.9 354.4 255.5 354.9 265.6 355.2 252.5 355.1 249.7 354.9 250.2 354.6 242.2 355.6 261.6 355.3 241.8 356 255.4 355.7 249.1 355.5 246.4 356.2 254.8 356 257.6 355.6 250.4 356.1 244.2 356.1 252 356.8 257.9 356.4 247.3 357 257.9 356.6 253.3 356.9 256.8 357 243.7 357.5 259.3 357.6 242.8 357.5 259.9 357.2 254.8 358 260.2 357.7 258.2 357.9 253.5 357.7 254.7 358.3 246.9 358.5 260.1 358.8 244.4 358 258.5 359.3 249.3 359 249.7 359 260.9 358.9 248 359.1 253.7 359.9 264.8 359.5 259.7 360 250.4 359.9 267.7 360.1 245 359.7 250.8 360.3 245.2 360.4 247.7 360.2 252.6 360.9 266.1 360.6 254.8 360.5 244.7 361 255.5 360.8 260.5 361.1 251.8 361.4 265.1 361.3 243.3 361.4 253 361.8 257.5 361.8 261.2 361.7 260.2 362.4 247.9 362.4 251.1 362.7 267.5 362.9 269.4 362.9 251.6 362.5 251.6 362.8 267.5 363.3 248.3 363.2 244.9 362.7 251.7 363.5 254.4 363.8 255.8 363.4 252.2 363.8 257.3 363.8 244.7 364.2 253.7 364.4 252.6 364 261.4 364.2 252.4 364.6 253.6 364.8 263.6 364.5 263.6 364.8 253.7 364.9 251.3 365.2 248.1 364.8 264.2 365.5 260.5 366 251.3 365.3 252.3 365.9 247.5 366.2 248.3 366 257.5 365.5 244.7 365.8 253 366.2 255.2 366.6 252.5 366.6 261.3 366.7 239.2 366.9 250.8 367.2 251.5 367.1 258.6 366.9 259 367.5 250.6 367.6 257.9 367.4 256.2 367.9 257.1 368.3 251.5 367.7 257.4 367.8 260.3 367.8 261.2 368.3 257.3 368.8 258.1 368.6 248 368.7 252.5 369.1 260.6 369.4 251.7 369.2 243.1 368.6 253 369 263 369.8 263.1 369.7 263.2 369.1 246.2 370.2 245.5 369.9 260.5 370.5 246.2 370.5 244.7 370.5 253 370.7 259.7 370.1 269.9 370.6 264 371.3 257.7 371.4 242.8 370.9 251.7 370.5 251.1 371.5 250.8 371.9 248.6 371.4 263 371.4 256.7 372.4 265.2 372.2 253.4 372.4 256.6 372.3 260.9 372.9 267 372 265.6 372 270.1 372.6 262.3 372.6 258.4 373.3 260.6 372.7 256 372.8 266.1 373.6 267.9 373.1 260.5 373.2 258 373.7 277.6 373.6 250.6 374.4 258.9 373.5 256.7 374.3 260.7 374.3 264.2 374.3 271.7 374.1 258.4 374.7 269.3 375.1 245.7 375.5 271 375.4 259 375.4 266.8 375.3 271.7 375.6 250.4 375.5 264.2 375.1 279.5 376.3 252.5 375.9 256.7 376.3 273.8 376.2 266.6 376.7 262.6 376.5 267.7 376.3 262.6 376.6 259.6 377.1 256.2 376.8 274 376.6 274 376.5 286.1 377.9 286.1 377.3 256.6 377.9 256.5 377.8 281.7 377.8 270.1 377.9 266.4 378.2 267.7 377.8 265.9 378.9 263.3 379 260.4 378.2 273.9 378.7 271.7 379.3 245.4 379.1 279.5 378.7 262.4 379 258.1 379.1 277.5 379.9 280.4 379.4 269.5 379 282.2 380.2 254.3 380.2 256.3 380.1 260.9 379.8 268.7 380.8 264.7 380.6 257.7 380 273.3 380.1 270.7 381.1 266.3 380.7 275.3 380.8 253.1 381.1 285.3 381.4 264.1 381.1 273 381.2 283 381.4 264.2 382.4 265.1 381.6 272.6 382.3 284.2 382 290 382.6 281.5 382.7 298.5 382.9 258.6 382.9 257.3 382.8 279.2 383.2 264.5 383.3 274.1 382.7 268.3 383.2 285.8 383.6 279 383.8 272.9 383 275.6 384.5 270 384.4 292.4 384.1 274.2 383.6 276.1 385 262.7 384.2 282.3 384.3 273 384.6 264.4 385 270.2 385.1 261.5 384.8 290.2 385.3 272.9 385.6 279.9 385.6 261.7 386 260.6 385.8 281.3 385.8 280.2 386.1 272.7 386.5 272.4 386.4 255.6 386.4 279.1 386.8 277.9 386 284 386.1 262.3 386.9 260.9 386.8 281.7 387 276.2 387.3 270.4 387.4 269 387.7 277.6 387.6 255.9 387.4 258.5 387.8 263 388.4 270.1 387.9 266.6 388.4 268.9 388.5 271.7 388.2 274.8 389 248.3 388.8 244.7 389.4 259.8 389.1 261.7 388.6 249.5 388.5 273.9 389.6 271.8 389.8 281 389.5 275.5 389.4 275.2 389.6 262.2 390 273.6 389.6 277.2 389.9 276.1 390.4 261.2 390.2 275.2 390.5 276.8 390.1 260.8 391.1 257.7 390.5 270.1 390.8 264.5 391.5 266.1 391.1 262.7 391.4 275.8 391.1 287.7 391.6 277.4 391.9 262.8 391.8 259.9 391.9 262.8 392.4 274.5 392.2 274.6 392.5 281.4 392.6 278.2 392.1 268.5 393.3 278.6 392.7 285.2 393.4 267.3 393.2 285.2 393.4 273.4 393.2 278.5 393.8 256.4 393.3 285.3 393.5 284.4 393.7 271.5 394.4 271.1 393.8 287 394.8 272.1 394.7 281.8 394.8 277.2 395 270.9 395.4 275.3 395.4 261.7 394.7 270.1 395.1 270.2 395.7 290.3 395.9 285.8 396 280.7 395.5 276.6 396 265.6 396.3 267.5 395.6 284.2 395.8 261.6 396.2 281 396.8 275.8 396 274.2 396.4 274.6 397 278 396.8 289.8 396.7 288.4 396.6 279 397.2 291.7 397.2 283.2 397.5 291.5 397.7 264.2 397.7 269.7 398.2 284.8 398 265.9 398.1 264.8 398.3 274.3 398.2 270.7 398.5 273.6 398.7 281 399.4 285.7 399.1 266.8 399.1 272.9 398.6 270.3 399.2 276.5 399.5 273.8 399.4 281.3 399.6 283.7 400.3 291 399.5 260.6 400.4 276.4 400 282.3 400.4 266.5 400.8 274 400.8 269.4 400.4 271.1 400.6 281.6 400.6 273.4 401.1 275.8 401.5 280.3 401.4 261.9 401.5 270.5 401.3 266.1 401.8 269.9 402.4 266.9 401.8 271.8 402.2 274.1 401.6 267 402.4 265.5 402.9 273.4 402.8 276.8 402.6 262.2 402.9 269.9 403.1 264.8 403.3 266.6 402.9 280 403.7 272.8 403.3 276.1 403.8 274.8 403.1 265.1 403.9 270.4 404.2 285 403.7 264.8 403.6 275.5 405 267.8 404.6 279.3 404.8 272.4 404.9 275.5 404.6 266.6 405.5 283.5 404.8 273.2 405.3 276.4 405.2 266.2 405.3 265.1 405.6 263.9 405.9 273.6 406.1 272.8 405.9 264.5 405.6 274.9 406.3 282.9 406.2 261.8 406.4 275.8 406.4 267.1 406 264.6 406.7 267.2 407.2 258.5 407.1 279.9 406.9 265.2 407.4 267 408 263.9 407.3 265.5 407.7 264.7 407.6 268.4 408.3 277.5 407.7 268.9 407.8 270.6 408.8 266.7 408.5 274.3 408.5 263.2 408.2 266.6 409.3 262.1 409.3 264.6 409.1 268.3 408.7 276.7 409.8 270.6 409.2 267.7 409.3 267.8 409.4 278.7 410.5 274 410.2 268.1 410.2 277.4 410.3 271 410.8 268.5 410 275.7 410.6 266.7 410.5 267.3 410.9 270.9 410.5 272.4 411.3 268.1 411.1 275.6 411.3 261.1 412 267.7 411.3 277.1 411.9 267.9 411.8 270.6 411.6 269.2 412 266.2 412.4 270.3 412.5 271.1 412.2 273.6 412.5 269.3 412.6 270.5 413.2 267.1 413 261.8 412.8 268.6 413.5 267.6 413.5 269.3 413.1 269.5 413.3 267.7 413.7 277 414.3 271.2 414.4 272.5 414 277.7 414.4 277.8 414.9 268.7 414.6 260.5 415 273.2 415 268.4 414.8 272.9 415.5 275.7 415.2 267.6 415.3 271.7 415.3 278.6 415.9 266.2 415.9 266.8 415.8 263.2 415.9 272.5 416.3 270.6 416.4 261.6 416.2 274.8 416.7 268.6 416.4 270.7 416.5 264.1 416.2 270.8 417 278.1 416.9 269.4 416.8 267.5 417.4 281 418 275.3 417.7 273.6 417.9 272.7 418 278 418.4 273.7 417.9 280.4 417.9 274.5 418.1 266.9 418.3 262.9 418.8 274.5 418.8 264.4 418.9 271.8 419 269.4 418.6 272.6 419.4 275.7 419.3 269.9 419.7 272.8 419.8 268.1 419.7 263.1 419.2 266.7 420.1 271.8 420 268.7 420 265.5 419.5 266.3 420.3 272.4 420.3 273.7 420.9 271.1 420.3 268.1 421.2 267.3 420.7 268.6 420.6 259.5 420.7 260.8 421.7 272.7 421.1 273.6 421.7 271 421.4 258 422.3 267.8 422.4 265.8 422.1 265.3 421.9 267.2 422.6 266.8 422.2 268.4 422.3 270.3 422.5 265.9 422.9 265.1 423.1 274.7 423.1 262.6 423.4 258.4 423.5 268.1 423.5 266 423.5 267.1 423.5 268.4 423.8 266.2 424.4 263.3 424.5 267.6 423.6 260.5 424.7 265.3 424.5 269.2 424.3 263.8 424.3 264.8 425.4 263.3 425.2 268.8 425.3 264.5 424.9 265.2 425.2 269.7 425.6 262.4 425.4 271.4 425.7 264.5 426.3 269.9 425.7 261.4 425.7 268.4 425.8 265.6 427 270.3 426.8 258.6 426.1 263.9 426.1 258.3 427.4 259.1 426.8 266.4 426.5 271.1 426.7 254.5 427.6 264.2 427.5 263.9 427 259.3 427.4 262.3 427.6 270.2 427.7 257.6 428 265.1 428 267.4 428.2 257.4 428.5 263.6 428.7 257.2 428.6 260.6 429 260.5 428.9 269.7 429.3 257.6 428.9 261.8 429.5 260.2 429.1 262.3 429.4 255.6 429.9 261.2 429.8 263.8 430.4 260.7 430.3 262.8 429.7 261.7 430.2 252.6 430.9 260.1 431 263.8 430.7 259.6 430.9 269.6 430.7 252.9 431.2 257.3 431.3 257.8 431.3 252.4 431.7 258 431.8 264.7 431.2 266.5 432.1 260.6 432.3 262.9 432.3 267.6 432.3 259.4 432.6 263.4 432.1 258.2 432.9 261.4 432.7 253.1 433.5 257 432.8 252.7 433.1 263.5 432.9 249.6 433.6 259.5 433 261.5 433.5 255.8 433.2 257.3 434.1 260.5 434 252.8 434.5 255.7 433.6 259.7 434.2 245.6 434.8 255.9 434.7 261.9 434.1 247.3 435.5 261.4 434.6 261.5 434.6 255.4 434.9 256.1 435.3 262.1 435.2 257.2 435.9 259.8 435.7 255.4 435.7 255.5 436.2 257.1 436.4 248.8 435.5 257.5 436.1 251.9 436.3 250.6 436.8 259.5 436.1 253.2 436.6 255.8 436.7 255 437.4 251 437.4 252.6 437.5 258.2 437.5 256.8 437.1 242.2 437.9 260.3 437.8 256.2 437.7 256.3 437.8 246.3 437.9 249.4 438.1 254 438.9 252.4 438.5 259 438.8 248 438.7 245.3 438.9 250.6 438.8 256.5 438.5 261.3 439.3 255.4 439.3 254.8 439.7 258 439.3 252.5 440.2 257.8 440 257.9 439.6 263.2 440.4 249.4 440.3 253.1 440.1 249.5 440.7 247.3 440.7 255 441.4 258.8 441.1 248.5 440.8 245.1 440.9 252.1 441.5 251.9 441.1 259.3 441.6 255.1 442 254.7 441.7 250.7 442.2 258.1 441.8 259.3 442.2 251.5 442.6 252.6 442.2 258.5 442 265 443 252.4 443 244.9 443.4 253.6 442.7 252.9 443.4 255.2 443.4 242.8 443.6 258.2 443.8 253.7 443.6 254.5 443.5 251.6 443.7 243.4 444.4 253.6 444.1 250.1 444.2 244.5 444.5 257.4 444.7 250.4 444.7 258.3 445.4 255.5 445.1 245.4 444.7 252 445.1 241 446 254.8 446 251.7 445.4 248.2 445.1 255.8 446.4 239.7 446.3 255.2 446.4 249.3 446.2 243.9 446 247.9 446.1 254.7 446.5 248.9 446.5 246.4 446.8 249.4 446.9 254.4 446.7 248.1 446.6 260 447.3 254.8 447.7 245.7 447.2 250.9 447.2 264.3 448.4 248.9 447.8 250.7 447.8 251.3 448.1 250.2 448.7 256.9 448.3 254.4 448.3 262.1 448.8 256.3 449.2 255.2 449.4 254.7 448.8 256.4 448.8 262.2 449.1 252.6 449.4 260.1 449.2 256.2 449.5 256.1 450.3 261.4 449.6 262.3 450.2 255.8 449.7 248.3 450.9 256 450.3 263.7 450.8 254.4 450.9 259.9 450.8 270.4 451.5 268.3 451.3 265.7 450.8 261.2 451.3 253.7 451.1 265.1 451 257.4 451.6 263 451.5 262.6 451.5 263.3 452.2 257.2 452 261.7 452.9 259 452.3 271.7 452.3 259.1 452.8 253.4 453 268.7 453.1 266.5 453.4 267.9 453.2 262.8 453.3 264.5 453.9 262.2 453.2 264.2 453.7 266.4 454 261.5 454 260.1 453.8 261.1 453.6 260.5 454.4 263.9 454.2 264.1 454.5 265.8 454.7 264.2 454.7 260.6 455.3 265.6 455.2 266.6 454.7 260.7 455.6 260.3 455.6 267.1 455.9 270.6 455.6 262.5 456 264.5 455.5 259.9 456.1 265.7 455.8 268 456.6 270.4 456.6 270.4 456.6 269.7 457 266.8 456.9 263.5 456.8 265.2 457 267.5 457.4 263.5 457.9 262.9 457.4 265.6 457.1 262 457.5 266 458.3 263.2 458.1 263.3 458.5 264.3 458.2 259.1 458.3 261.1 458.3 260 458.3 258.9 458.3 259.7 459.4 257.1 458.8 259.9 458.8 272.6 459.2 264 459.5 260.1 459.6 263.7 459.5 259.7 459 258.5 460.4 267 460.4 260.9 460.2 265.8 460.4 260.3 460.7 264 460.5 262.5 460.6 263.2 460.5 264.4 460.9 258.2 461.2 267.2 461.1 258.9 460.7 267.4 461.7 257.2 461.9 260.8 461.2 266.6 461 267.6 461.6 265.4 461.9 267 461.5 255.9 462.3 265.8 462.6 268 462.5 268.8 463 258.6 462.2 254.1 462.5 263.5 463.4 268.5 463.2 263.2 462.7 265.1 463.1 259.5 463.1 266.4 463.7 258 463 258.8 464.3 264.9 463.8 260.4 464 257.8 464.4 265.7 464.1 259.3 464.7 256.6 465 261.1 464.6 261.5 465.5 262.8 465.4 264.9 465 256.7 465.1 263.8 465.5 266.2 465 261.1 465.9 261.3 465.6 261.5 466 258.6 466.4 262.4 466.5 263.3 466.5 260.5 466.3 255 466.6 262.3 466.8 260 466.2 261 467.3 258.3 467.4 262.9 466.9 262.1 466.7 261 467.1 266.3 468 265.3 467.5 257.4 467.1 266.2 468.1 259.4 467.8 262.9 468.5 259.9 467.6 259.6 468.7 259 468.9 265 468.6 261.7 468.1 264.6 469.1 265.4 468.9 263.8 469.4 262.2 469.1 261.8 469.7 259.2 469.3 261.7 469 263.2 469.4 267 469.9 268.3 470 262 470.3 265.3 470.1 259.5 470.1 263.9 470.1 268.2 470.7 263.1 470.8 267 471.2 258.7 470.9 261 470.9 265.4 470.8 264.4 471.1 261.5 471.9 259.8 471.6 261.7 471 261.5 471.6 258.1 472.1 262.1 472.4 259.1 471.6 262.1 472.6 261.1 472.3 260 472.3 259.9 472.8 260 472.9 262.2 473.2 266.1 473 261.9 472.8 262 473.9 262.8 473.4 265 473.1 263.5 473.5 263.9 474.4 257.5 474.1 261.8 473.7 259.6 474.3 257.8 474.8 261.6 474.3 257 474.5 263.4 474.4 263.1 475.3 256.7 475.2 258.8 474.9 261.2 475.4 262 475.8 258.6 475.5 259 475.3 259.1 475.9 257.1 476.4 264 476.1 260.8 475.8 262.5 475.6 257.2 477 253.8 476.6 260.2 476.3 260.7 476.6 260.5 477.4 258.4 477 254.6 477 259.6 476.8 263.2 477.1 257.4 477.5 262.7 477.8 257.6 477.6 259.9 478.5 255.4 477.8 254.4 477.6 260.6 478 253.6 478.5 256.9 478.1 259.3 478.1 258.8 478.4 261.1 478.8 261.8 478.9 257.6 479.2 256 479.2 258.5 479.4 253.1 479.1 259.5 479.4 259.5 479 256 479.5 261.9 480 260.7 480 258.4 479.8 255.6 480.1 256.7 480.8 257.1 480.3 258.3 480.9 257.7 480.8 259.7 481 260.3 480.8 258.9 480.8 257.5 481.4 253 481.6 256.3 481.1 256.7 481.6 252.6 482.1 260.6 481.8 259.1 481.7 258.1 482.5 258.4 482.8 254.9 482.9 255.8 482.6 251.9 482.7 256.3 483 258.4 482.5 257.9 483.3 255.3 483.4 254.5 483.3 254.9 483.8 262.3 483.9 262.1 483.2 258.9 483.6 259.1 484.4 258.6 484.4 256.8 483.6 253.5 484.5 254 484.7 256.4 484.2 254.3 484.4 259 484.8 257.1 484.6 252.3 485.2 260.1 485.5 254.9 485.8 255.5 485.6 253.6 485.5 253.9 485.1 255 486.5 255.7 485.8 253.6 485.5 255.1 486.3 259.7 486.3 256.1 486.9 253.8 486.8 256.3 486.2 260.6 487 250.8 486.8 254.1 486.6 260.4 487.4 252.3 487.1 252.6 487.9 254.9 487.7 252.3 487.2 256.1 487.6 255.1 487.8 257.7 488.1 252.7 488.3 257.2 489 252.6 488.8 252.7 488.1 255.6 488.4 255.6 488.7 251.6 489.1 257.8 488.7 249.8 488.9 254.6 490 255.3 489.5 250.7 490 251.7 489.1 255.3 490.4 257.6 490.4 250.6 490.2 255.2 489.7 257 490.9 252.7 491 254.4 490.7 252.4 490.1 253 491.4 249.8 491.2 259.1 490.6 252.7 490.8 251.2 491.5 257.1 491.1 251.4 491.7 249.9 491.2 248.7 491.9 256.3 491.6 251.2 492.3 249.5 492.5 254.9 492.1 252.2 492.5 250 492.7 251.7 492.5 258.4 492.8 258.8 493 257.2 493.1 253.9 492.7 250.2 493.1 249.9 493.5 254.3 493.4 255.9 493.5 249.9 493.6 251.5 493.6 253.5 493.5 253.6 493.7 245.4 494.4 252.3 494.2 253.8 494.8 252.2 494.3 257.7 495.3 249.1 495.1 254.5 494.6 250.5 495.3 253 495.7 258.8 495.2 257.9 495.1 256.8 495.9 251.7 495.6 259.3 496.3 253 495.9 257.9 495.9 254.6 496.2 256.7 496.6 256.2 497 257.9 496.5 255.1 496.9 254.7 496.8 255 496.6 259.4 496.7 254 497.7 261.6 497.5 259.9 497.3 259.3 497.2 259.7 498 261.3 497.8 260.4 497.9 259.3 497.7 257 498.7 257.2 498.2 256.4 498.6 258.9 498.9 259.1 498.9 260.9 498.6 260 498.6 259.1 499.4 262 499.1 261.6 499.7 256.6 499.1 260.1 499.6 257.7 499.9 262.1 500.2 258 500.2 261 500.3 261.2" stroke="none" marker-start="url(#mr)" marker-mid="url(#mr)" marker-end="url(#mr)"/>
<path d="M113.4 264.6 116 265.4 120 265.3 123 264.6 126.6 263.9 131 264.1 135 263.8 138.3 263.8 140 266 141.6 269.1 145 270.9 148.2 272.1 151 271.7 154.9 272.1 157.5 275 159.9 277.4 164 278.9 168.2 279.7 172 278.9 176.5 279.1 179 280.7 181.5 281.4 185 279.9 189.8 277.9 193 278 196.5 278.4 200 281.1 203.1 283.4 206 283.5 209.8 284.1 213 285.5 216.4 286.2 220 284.9 223.1 282.9 226 280.8 229.7 279.1 233 278.9 236.4 279.1 239 275.5 241 271 243 267.9 245.5 267.7 248 266.9 250 258.5 251.5 257 252.8 257.8 254.8 255.1 256.3 249.5 257.8 245.6 259.3 245.2 260.8 244.4 262.5 237 264.3 230.1 266.7 229.5 269.1 231.9 271.1 229.5 273.3 231.9 275 230.1 276.2 221 277.4 214.1 278.9 219.5 280.4 224.2 281.6 218 282.8 214.7 285.7 214.7 287.2 216.5 288.7 219.4 290.5 226.5 292.3 233.7 294 230.7 295.4 237 296.8 243.2 298.4 234 300 226.6 301.2 234 302.4 240.8 304.7 244.4 306.2 240 307.7 236.1 310.1 235.5 312.2 226 314.2 217.1 316 219.4 317.8 214.1 319.9 226 322 237.3 323.7 231.3 325.5 232.5 327 238 328.5 243.2 330.5 229 332.6 216.5 334.7 224 336.8 230.1 338.3 228.5 339.8 223.4 341.5 228 343.3 231.8 345.4 222 347.5 213.9 349.3 223 351 231.8 353.7 219 356.4 208 358.2 219 359.9 229.4 361.4 224.5 362.9 221.1 364.1 225.8 366.5 216.3 369.4 218.1 371.1 211 372.8 205.6 374.4 214 376 221.7 378.3 223.4 380.1 216.9 381.9 231 383.7 245.2 386.1 235.7 387.3 236.5 389.4 224 391.3 234 393.2 244 395.6 241.6 397.9 257.1 399.7 243 401.2 230 402.5 221.1 405.1 229.4 407.7 220.5 410 229 412.2 236.9 414.6 238.3 416.9 232.4 418.7 238 420.5 242.8 422 236.5 423.5 231.2 425.9 234.7 428.8 230.6 431.2 236 432.4 240.1 434.2 232 435.9 225.3 438.3 228.3 440.7 218.2 442.5 223.5 444.8 221.7 447.8 230.6 449.2 223.5 451.2 233 453.2 241.9 456.7 234.2 458.5 238.9 460.8 233 463 227.1 465.6 236 470.4 238.3 473.3 231.8 476.3 238.9 478.5 233 479.9 236 485.8 234.8 488.2 237.2 491.8 238.3 494.4 233.6 497.7 240.1 501.3 246.1 504.2 250.2 507.2 248.6 509 250.4 511.5 250.2 513.4 258.5 515 262 519 268.9 522 271.2 524.7 272.1 527 270 529.5 266.5 535.9 256.9 542.3 248.8 547.9 246.4 552.7 245.6 556 248.4 559.1 252.1 563.9 259.3 567.1 261.7 572 269.7 576 276.9 578 276.6 580 275.3 586.4 268.1 592.8 263.3 599.2 257.7 602 257.6 605.6 258.5 609 257.5 612 257.2 616 257.6 620.9 257.7" stroke="#0000ff" stroke-width="1.5"/>
<path d="M113.4 281.6 116.5 281.2 120 280.7 126.6 280 130 278.9 133.3 278.4 136 279.3 138.3 280.7 141.6 284.9 144.9 287 148 287.2 151.6 287.7 155 289.8 158.2 292.3 162 293.8 166.5 294.8 171 294.4 176.5 294.8 180 295.8 183.2 296.5 187 295.4 191.5 294 196.5 294.8 200 296.6 203.1 298.2 208 299.2 213.1 299.8 216.5 299.6 219.8 299 225 296.8 229.7 294.8 235 294.2 239.7 294 240 292.6 244.8 290.2 247.7 292.4 251.9 281.1 255.4 278.1 259 273.9 261.4 276.3 263.8 263.3 266.7 261.5 270.9 262.7 275.6 262.1 279.2 260.3 281.6 258.5 285.7 249.6 288.7 253.8 292.3 260.9 294.6 262.1 297.6 269.2 300 257.9 302.4 265.6 304.1 269.2 306.5 264.4 311.3 259.7 314.8 256.1 317.2 250.8 319.6 264.4 324.3 262.1 327.9 269.2 332.6 252.6 335 253.8 337.4 258.5 338.6 257.1 342.1 254.7 345.7 259.4 348.7 253.5 351.6 260.6 356.1 244.6 358.8 258.3 362.9 253.5 364.1 256.5 367.1 249.9 370.6 248.2 374.2 255.9 377.2 272.5 379.5 258.3 382.5 285.6 385.5 272.5 388.4 258.8 392 270.1 395.6 276.1 397.9 278.4 402.1 261.8 405.1 267.8 406.9 261.8 412.2 266.6 416.4 264.8 419.3 268.3 423.5 258.8 425.9 259.4 428.8 254.7 432.4 256.4 435 251.5 437.1 250.8 440.1 245.5 443.1 250.8 446 244.3 449 252 453.8 262.7 457.9 254.4 459.7 257.9 462.7 250.8 465.6 256.8 468 254.4 470.4 258.5 473.3 253.2 475.7 256.2 478.7 250.8 482.3 252 485.8 249.6 489.4 251.4 494.1 245.5 497.7 253.2 499.8 255.8 503.8 261.7 507.8 262.5 511 264.9 514.2 274.5 519 281.7 523.9 284.9 528.7 280.9 535.1 272.9 541.5 265.7 547.1 263.6 552.7 264.6 559.1 268.9 563.9 276.9 567.1 279.3 572 288.1 576 291.3 580 290.5 586.4 286.5 592.8 282.5 597.6 278.5 604 277.2 612 276.6 620.9 276.2" stroke="#00ff00" stroke-width="1.5"/>
<path d="M113.4 285.7 120 284.9 126.6 283.7 133.3 283.5 137 284.6 139.9 285.8 142.4 283.3 144.9 290.8 148 291.3 151.6 291.6 155 294.4 158.2 297.4 162 298.5 166.5 299.1 170 298.9 174.8 299.1 177 300.5 179.8 302.1 185 299.9 189.8 298.3 193 298.5 196.5 299.1 200 301.3 204.8 303.8 210 304.1 216.4 304.1 223 301.7 229.7 299.1 236 298.5 240 296.4 244.8 295 249.5 295.7 253.1 288.2 256.6 285.8 259.6 282.9 262 282.3 264.9 269.2 268.5 264.4 273.3 259.1 278 254.9 280.4 257.9 285.1 250.8 287.5 258.5 291.1 266.8 294 269.2 297 273.9 300 260.3 301.8 268 304.7 271.6 307.7 265.6 313.6 258.5 317.2 253.2 319 269.2 324.3 264.4 327.9 272.8 333.2 255.5 336.2 258.5 337.4 260.6 342.1 257.1 345.7 261.8 348.7 254.7 351.6 264.2 356.4 246.4 358.8 259.4 362.9 257.1 364.7 258.8 367.7 250.5 370.6 252.3 374.2 259.4 377.2 278.4 379.5 259.4 382.5 289.1 385.5 276.1 388.4 263 392 278.4 395.6 280.8 397.9 285.6 402.1 264.2 405.1 273.7 406.9 266.6 412.2 270.7 416.4 270.1 419.9 273.7 424.1 264.2 426.4 263 428.8 260 432.4 261.8 435 256.5 436.5 255.6 440.1 251.4 443.1 257.9 446 250.8 449.6 259.1 453.8 266.3 456.7 261.5 459.1 265.1 462.7 257.9 466.8 263.3 470.4 263.3 473.3 260.9 475.7 262.1 478.7 256.8 482.3 257.4 485.2 253.2 489.4 256.2 494.1 249.6 497.7 257.9 499.8 260.1 503.8 265.7 507.8 264.1 511 266.5 514.2 277.7 519 284.9 523.9 287.3 528.7 283.3 535.1 274.5 541.5 268.1 547.1 266.5 552.7 267.3 559.1 272.1 563.9 279.3 567.1 282.5 572 291.3 575.2 294.5 580 293.7 586.4 289.7 592.8 286.5 597.6 282.5 604 281.4 612 280.6 620.9 280.1" stroke="#ff0000" stroke-width="1.5"/>
</g>
<rect x="113.39" y="84.76" width="510.23" height="396.85" fill="none" stroke="#000" stroke-width="1.3"/>
<path d="M113.39 481.61v5.67M113.39 84.76v-5.67M134.65 481.61v2.83M134.65 84.76v-2.83M155.91 481.61v2.83M155.91 84.76v-2.83M177.17 481.61v2.83M177.17 84.76v-2.83M198.43 481.61v2.83M198.43 84.76v-2.83M219.69 481.61v2.83M219.69 84.76v-2.83M240.95 481.61v5.67M240.95 84.76v-5.67M262.21 481.61v2.83M262.21 84.76v-2.83M283.47 481.61v2.83M283.47 84.76v-2.83M304.73 481.61v2.83M304.73 84.76v-2.83M325.99 481.61v2.83M325.99 84.76v-2.83M347.25 481.61v2.83M347.25 84.76v-2.83M368.50 481.61v5.67M368.50 84.76v-5.67M389.76 481.61v2.83M389.76 84.76v-2.83M411.02 481.61v2.83M411.02 84.76v-2.83M432.28 481.61v2.83M432.28 84.76v-2.83M453.54 481.61v2.83M453.54 84.76v-2.83M474.80 481.61v2.83M474.80 84.76v-2.83M496.06 481.61v5.67M496.06 84.76v-5.67M517.32 481.61v2.83M517.32 84.76v-2.83M538.58 481.61v2.83M538.58 84.76v-2.83M559.84 481.61v2.83M559.84 84.76v-2.83M581.10 481.61v2.83M581.10 84.76v-2.83M602.36 481.61v2.83M602.36 84.76v-2.83M623.62 481.61v5.67M623.62 84.76v-5.67M113.39 481.61h-5.67M623.62 481.61h5.67M113.39 441.93h-2.83M623.62 441.93h2.83M113.39 402.24h-2.83M623.62 402.24h2.83M113.39 362.56h-2.83M623.62 362.56h2.83M113.39 322.87h-2.83M623.62 322.87h2.83M113.39 283.19h-5.67M623.62 283.19h5.67M113.39 243.50h-2.83M623.62 243.50h2.83M113.39 203.81h-2.83M623.62 203.81h2.83M113.39 164.13h-2.83M623.62 164.13h2.83M113.39 124.44h-2.83M623.62 124.44h2.83M113.39 84.76h-5.67M623.62 84.76h5.67" stroke="#000" stroke-width="0.75" fill="none"/>
<text x="369.8" y="45.9" font-size="36" text-anchor="middle" style="stroke-width:.5px">Dew Point / 2008-06-21</text>
<text x="100.3" y="71.1" font-size="17.3">[°C]</text>
<text x="103.9" y="91.8" font-size="20.5" text-anchor="end">25</text>
<text x="103.9" y="290.2" font-size="20.5" text-anchor="end">20</text>
<text x="103.9" y="488.6" font-size="20.5" text-anchor="end">15</text>
<text x="114.0" y="506.6" font-size="20.5" text-anchor="middle">00:00</text>
<text x="241.5" y="506.6" font-size="20.5" text-anchor="middle">06:00</text>
<text x="370.5" y="506.6" font-size="20.5" text-anchor="middle">12:00</text>
<text x="498.0" y="506.6" font-size="20.5" text-anchor="middle">18:00</text>
<text x="369.7" y="526.6" font-size="19.6" text-anchor="middle">Jun-21</text>
<text x="370.2" y="550.7" font-size="24" text-anchor="middle">(LST)</text>
<rect x="637.8" y="396.6" width="184.3" height="85" fill="#fff" stroke="#000" stroke-width="1.1"/>
<path d="M643.1 411H655.2" stroke="#ff2020" stroke-width="1.7"/>
<circle cx="649.2" cy="411" r="1.2" fill="#ff8080" stroke="#ff2020" stroke-width="0.5"/>
<text x="659.4" y="415.7" font-size="18">at 29.5 m</text>
<path d="M643.1 439.3H655.2" stroke="#20ff20" stroke-width="1.7"/>
<circle cx="649.2" cy="439.3" r="1.2" fill="#80ff80" stroke="#20ff20" stroke-width="0.5"/>
<text x="659.4" y="444" font-size="18">at 12.3 m</text>
<path d="M643.1 467.6H655.2" stroke="#2020ff" stroke-width="1.7"/>
<circle cx="649.2" cy="467.6" r="1.2" fill="#8080ff" stroke="#2020ff" stroke-width="0.5"/>
<text x="659.4" y="472.3" font-size="18">at 1.6 m</text>
<text x="780.2" y="533" style="stroke-width:.08px" font-size="12.3" text-anchor="end">©TERC, Univ. Tsukuba</text>
<text x="823.2" y="549.6" style="stroke-width:.08px" font-size="14" text-anchor="end">Observed at TERC Tower site</text>
<text x="823.2" y="566.3" style="stroke-width:.08px" font-size="14" text-anchor="end">Created Automatically at 2008-06-21/23:55:22</text>
<text x="823.2" y="582.4" style="stroke-width:.08px" font-size="14" text-anchor="end">Data source : /home/hojyo/new/TERC-data/sorted_data/MET.10s.dat</text>
<g transform="translate(785,504)">
<path d="M1.2 0H10.5Q11.6 0 12 1.6Q13 5.8 17 5.8Q21 5.8 22 1.6Q22.4 0 23.5 0H32.8Q34 0 34 1.2V34H0V1.2Q0 0 1.2 0Z" fill="#0a5af0"/>
<path d="M17.4 8 Q20.4 13.6 20.4 15.4 A3 3 0 0 1 14.4 15.4 Q14.4 13.6 17.4 8Z" fill="#fff"/>
<path d="M0 11 Q5 21.5 17 21.5 Q29 21.5 34 11 M0 16.5 Q5 24.6 17 24.6 Q29 24.6 34 16.5" fill="none" stroke="#fff" stroke-width="1.25"/>
<text x="3.5" y="32.9" font-size="8.2" font-weight="bold" text-anchor="middle" style="font-family:'Liberation Sans',sans-serif;fill:#fff;stroke:#fff;stroke-width:.35px">T</text>
<text x="12.3" y="32.9" font-size="8.2" font-weight="bold" text-anchor="middle" style="font-family:'Liberation Sans',sans-serif;fill:#fff;stroke:#fff;stroke-width:.35px">E</text>
<text x="22.3" y="32.9" font-size="8.2" font-weight="bold" text-anchor="middle" style="font-family:'Liberation Sans',sans-serif;fill:#fff;stroke:#fff;stroke-width:.35px">R</text>
<text x="30.4" y="32.9" font-size="8.2" font-weight="bold" text-anchor="middle" style="font-family:'Liberation Sans',sans-serif;fill:#fff;stroke:#fff;stroke-width:.35px">C</text>
</g>
</svg></body></html>
